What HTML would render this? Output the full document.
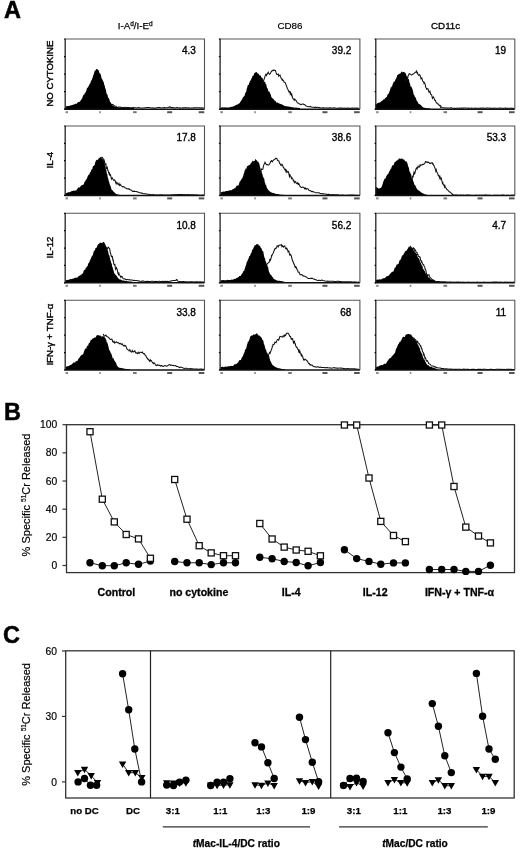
<!DOCTYPE html>
<html><head><meta charset="utf-8"><style>
html,body{margin:0;padding:0;background:#fff;width:520px;height:848px;overflow:hidden}
svg{display:block;filter:blur(0.3px)}
text{font-family:"Liberation Sans",sans-serif;fill:#000}
</style></head><body>
<svg width="520" height="848" viewBox="0 0 520 848">
<text x="3.9" y="17.9" font-size="23.5" font-weight="bold" stroke="#000" stroke-width="0.5">A</text>
<text x="135.2" y="29.2" font-size="9.8" stroke="#000" stroke-width="0.25" text-anchor="middle">I-A<tspan font-size="6.5" dy="-3.5">d</tspan><tspan dy="3.5">/I-E</tspan><tspan font-size="6.5" dy="-3.5">d</tspan></text>
<text x="290" y="29.2" font-size="9.8" stroke="#000" stroke-width="0.2" text-anchor="middle">CD86</text>
<text x="445.6" y="29.2" font-size="9.8" stroke="#000" stroke-width="0.3" text-anchor="middle">CD11c</text>
<text transform="translate(52.5,73.6) rotate(-90)" font-size="9.6" stroke="#000" stroke-width="0.4" text-anchor="middle">NO CYTOKINE</text>
<path d="M65.6,109.2 L65.6,106.4 L66.14,106.17 L66.88,106.26 L67.76,105.88 L68.73,105.89 L69.76,105.69 L70.79,105.28 L71.77,105.29 L72.65,104.83 L73.4,104.82 L74.46,104.25 L75.31,103.79 L76.04,103.67 L76.75,103.8 L77.5,102.72 L78.08,102.11 L78.65,102.09 L79.22,102.3 L79.79,101.55 L80.36,100.54 L80.93,100.75 L81.5,98.65 L81.94,98.97 L82.39,97.63 L82.83,96.29 L83.27,95.17 L83.72,94.59 L84.16,94.91 L84.6,93.38 L85.05,93 L85.5,92.52 L85.87,91.47 L86.25,90.94 L86.63,89.34 L87.01,88.17 L87.4,87.51 L87.78,87.75 L88.16,86.99 L88.53,86.01 L88.9,85.69 L89.25,84.9 L89.6,83.83 L89.97,83.85 L90.33,83.25 L90.67,81.63 L91.02,81.07 L91.35,80.28 L91.68,80.18 L92.01,79.43 L92.34,77.78 L92.67,77.94 L93,75.92 L93.33,75.08 L93.66,74.86 L93.99,73.07 L94.32,72.39 L94.65,70.72 L94.98,70.75 L95.31,70.64 L95.64,69.94 L95.97,70.03 L96.3,68.89 L96.86,69.11 L97.43,69.32 L98,69.81 L98.57,70.32 L99.14,71.89 L99.7,73.45 L99.98,73.35 L100.26,74.05 L100.55,73.59 L100.83,75.06 L101.11,76.12 L101.39,77.78 L101.67,78.7 L101.95,78.53 L102.22,79.07 L102.49,80.31 L102.75,80.03 L103,81.11 L103.29,81.55 L103.58,82.07 L103.85,82.61 L104.12,84.69 L104.39,84.84 L104.65,85.53 L104.91,86.55 L105.17,88.42 L105.43,88.16 L105.7,89.18 L105.97,90.3 L106.24,91.96 L106.51,93.08 L106.78,94.15 L107.05,93.94 L107.32,94.51 L107.59,95.09 L107.86,96.81 L108.13,98.19 L108.4,97.61 L108.73,97.89 L109.04,98.58 L109.36,99.37 L109.67,100.61 L109.99,101.74 L110.33,102.19 L110.7,102.44 L111.1,103.32 L111.68,104.11 L112.29,104.89 L112.93,105.75 L113.61,106.12 L114.34,106.34 L115.1,106.63 L115.83,106.91 L116.5,106.83 L117.21,107.2 L118.05,107.37 L119.12,107.52 L120.5,107.62 L121.15,107.51 L121.89,107.48 L122.72,107.38 L123.62,107.52 L124.57,107.42 L125.56,107.39 L126.57,107.43 L127.59,107.45 L128.59,107.53 L129.57,107.49 L130.51,107.47 L131.38,107.51 L132.19,107.53 L132.9,107.62 L133.51,107.58 L134,107.8 L134,109.2Z" fill="#000"/>
<path d="M112,104.66 L112.46,104.44 L113.07,104.8 L113.85,105.41 L114.82,105.99 L116,106.26 L116.57,106.86 L117.12,107.3 L117.66,107.21 L118.23,107.22 L118.85,107.03 L119.55,106.98 L120.34,107.13 L121.26,107.19 L122.32,107.54 L123.56,107.4 L125,107.3 L125.57,107.68 L126.18,107.68 L126.83,107.51 L127.52,107.61 L128.23,107.43 L128.98,107.58 L129.76,107.86 L130.56,107.95 L131.39,107.93 L132.23,107.73 L133.1,107.68 L133.97,107.57 L134.86,107.78 L135.76,107.79 L136.67,107.9 L137.58,107.77 L138.49,107.65 L139.41,107.85 L140.31,108.03 L141.22,108.06 L142.11,108.05 L142.99,108.06 L143.86,108.03 L144.72,107.8 L145.55,107.81 L146.36,107.74 L147.15,107.57 L147.91,107.49 L148.64,107.55 L149.34,107.57 L150,107.77 L151.1,107.98 L152.16,107.86 L153.19,108.01 L154.2,108.11 L155.17,108.14 L156.11,107.9 L157.02,107.71 L157.9,107.61 L158.75,107.54 L159.57,107.51 L160.35,107.66 L161.11,107.86 L161.84,107.92 L162.53,107.78 L163.19,107.78 L163.83,107.84 L164.43,107.53 L165,107.63 L166.41,107.73 L167.41,107.65 L168.12,107.52 L168.7,107.24 L169.28,106.88 L170,107.12 L170.56,107 L170.78,107.32 L171,107.65 L171.56,107.58 L172.78,107.61 L175,107.91 L175.5,107.92 L176.06,107.68 L176.67,107.55 L177.33,107.5 L178.03,107.81 L178.78,107.92 L179.57,107.7 L180.39,107.88 L181.24,108.04 L182.12,107.99 L183.03,107.84 L183.96,107.85 L184.91,107.68 L185.88,107.56 L186.85,107.89 L187.83,107.93 L188.82,107.9 L189.81,108.05 L190.8,107.92 L191.78,108.04 L192.76,108.08 L193.72,107.86 L194.67,107.76 L195.59,107.73 L196.5,107.7 L197.38,107.82 L198.23,107.75 L199.04,107.79 L199.83,107.69 L200.57,107.95 L201.27,107.86 L201.92,107.86 L202.52,107.91 L203.07,108.06 L203.57,107.95 L204,108.09" fill="none" stroke="#111" stroke-width="1.05"/>
<path d="M65.2,39 H204.5 V109.2" fill="none" stroke="#555" stroke-width="1.1"/>
<path d="M65.2,39 V109.2" fill="none" stroke="#222" stroke-width="1.3"/>
<path d="M64.6,109.2 H204.5" fill="none" stroke="#111" stroke-width="1.5"/>
<path d="M65.4,39 h-1.4" stroke="#000" stroke-width="1.2"/>
<path d="M65.4,56.55 h-1.4" stroke="#000" stroke-width="1.2"/>
<path d="M65.4,74.1 h-1.4" stroke="#000" stroke-width="1.2"/>
<path d="M65.4,91.65 h-1.4" stroke="#000" stroke-width="1.2"/>
<path d="M65.4,109.2 h-1.4" stroke="#000" stroke-width="1.2"/>
<rect x="65.5" y="111.2" width="2.5" height="2" fill="#888"/>
<rect x="99.23" y="111.2" width="1.6" height="2" fill="#888"/>
<rect x="133.05" y="111.2" width="3.6" height="2" fill="#777"/>
<rect x="167.18" y="111.2" width="5" height="2" fill="#555"/>
<rect x="198.7" y="111.2" width="5.6" height="2" fill="#555"/>
<text x="195.9" y="54.2" font-size="10" stroke="#000" stroke-width="0.35" text-anchor="end">4.3</text>
<path d="M220.6,109.2 L220.6,107.5 L221.09,107.5 L221.72,107.51 L222.45,107.36 L223.28,107.44 L224.17,107.4 L225.12,107.32 L226.09,107.54 L227.08,107.41 L228.05,107.41 L228.99,107.44 L229.88,107.31 L230.7,107.05 L231.54,106.87 L232.37,106.67 L233.19,106.57 L234,105.96 L234.8,105.77 L235.58,105.25 L236.34,104.77 L237.08,104.72 L237.81,104.17 L238.52,103.64 L239.2,103.28 L239.69,103.13 L240.17,102.1 L240.63,101.52 L241.09,100.7 L241.54,99.95 L241.98,99.56 L242.41,98.5 L242.83,97.75 L243.24,96.87 L243.64,96.96 L244.03,96.14 L244.41,95.7 L244.78,95.23 L245.15,93.28 L245.5,92.55 L245.86,92.55 L246.2,91.96 L246.52,89.86 L246.82,88.4 L247.11,87.92 L247.39,86.55 L247.66,85.82 L247.93,84.73 L248.2,85 L248.48,84.99 L248.77,84.85 L249.06,82.93 L249.37,82.74 L249.7,82.19 L250.1,80.39 L250.52,80.5 L250.95,80.26 L251.39,78.18 L251.83,78.16 L252.28,76.62 L252.74,75.64 L253.19,75.81 L253.65,75.29 L254.1,73.45 L254.55,72.92 L255,72.74 L255.67,72.29 L256.35,72 L257.04,72.4 L257.72,73.78 L258.39,73.45 L259.05,74.73 L259.69,75.49 L260.3,75.29 L260.88,76.06 L261.43,77.31 L261.95,78 L262.46,77.77 L262.97,79.84 L263.47,80.87 L263.98,82.18 L264.5,81.59 L264.83,81.78 L265.16,81.78 L265.49,83.63 L265.82,83.93 L266.15,84.2 L266.48,85.32 L266.82,87.27 L267.15,88.46 L267.48,88.33 L267.81,88.43 L268.14,90.38 L268.47,91 L268.8,91.89 L269.21,91.61 L269.61,91.81 L270,93.55 L270.39,94.28 L270.77,94.3 L271.17,96.39 L271.59,97.17 L272.03,98.23 L272.5,97.64 L273,99.2 L273.54,98.72 L274.09,100.29 L274.67,100.6 L275.26,100.84 L275.88,101.56 L276.52,102.69 L277.18,102.58 L277.87,102.59 L278.57,103.29 L279.3,103.52 L279.98,103.68 L280.66,103.97 L281.36,104.19 L282.07,104.57 L282.81,104.98 L283.56,105.31 L284.34,105.89 L285.16,105.98 L286,106.25 L286.88,106.3 L287.8,106.52 L288.53,106.51 L289.34,106.69 L290.2,106.74 L291.11,107.11 L292.04,107.27 L293,107.27 L293.96,107.41 L294.9,107.67 L295.82,107.58 L296.7,107.78 L297.52,107.8 L298.28,107.85 L298.96,107.99 L299.53,107.97 L300,108.01 L300,109.2Z" fill="#000"/>
<path d="M261.5,84.56 L261.76,85.23 L262.1,83.2 L262.51,83.18 L262.97,82.31 L263.46,81.2 L263.98,79.52 L264.5,78.15 L264.97,76.34 L265.46,75.33 L265.98,74.33 L266.51,75.52 L267.06,74.37 L267.63,73.25 L268.21,72.2 L268.8,73.73 L269.5,74.3 L270.25,73.73 L271.01,72.06 L271.79,70.93 L272.55,70.4 L273.3,70.6 L274,69.85 L274.76,70.49 L275.46,70.49 L276.14,72.88 L276.83,74.49 L277.54,74.46 L278.3,74.06 L278.71,76.1 L279.13,75.48 L279.55,75.67 L279.99,75.08 L280.44,76.31 L280.89,77.6 L281.34,78.73 L281.8,78.79 L282.25,80.11 L282.71,79.64 L283.16,80.53 L283.6,80.78 L284.08,82.2 L284.56,82.17 L285.05,82.42 L285.53,83.71 L286.01,84.47 L286.49,86.23 L286.97,87.26 L287.45,88.78 L287.94,89.6 L288.42,90.54 L288.9,91.86 L289.33,91.38 L289.75,91.31 L290.15,93.63 L290.55,92.66 L290.95,94.27 L291.36,95.21 L291.77,94.25 L292.2,96.51 L292.66,98.15 L293.14,98.51 L293.65,99.33 L294.2,100.26 L294.78,99 L295.4,99.79 L296.03,100.41 L296.69,101.8 L297.37,102.62 L298.07,103.28 L298.79,103.31 L299.52,104.11 L300.27,104.31 L301.04,104.6 L301.81,104.21 L302.6,103.94 L303.33,104.11 L304.07,104.62 L304.81,104.71 L305.56,105.66 L306.33,105.94 L307.1,106.22 L307.9,106.43 L308.72,106.65 L309.56,106.67 L310.42,106.39 L311.32,106.89 L312.24,107.16 L313.2,107.2 L313.89,107.26 L314.57,107.4 L315.24,107.17 L315.9,107.46 L316.56,107.38 L317.22,107.28 L317.9,107.35 L318.6,107.63 L319.32,107.55 L320.08,107.77 L320.87,108 L321.71,107.92 L322.6,107.85 L323.54,107.87 L324.55,107.98 L325.62,108.07 L326.77,108.08 L328,108.11 L328.62,107.92 L329.29,107.85 L329.99,107.87 L330.73,108.05 L331.51,107.99 L332.31,108.06 L333.15,107.91 L334.01,107.86 L334.89,107.91 L335.79,108.07 L336.71,108.16 L337.65,108.2 L338.6,108.1 L339.56,108.12 L340.53,108.12 L341.5,108.13 L342.48,108.02 L343.45,108.21 L344.43,108.09 L345.39,108.28 L346.35,108.36 L347.3,108.11 L348.24,108.13 L349.16,108.25 L350.07,108.36 L350.95,108.25 L351.81,108.14 L352.64,108.07 L353.45,108.26 L354.22,108.14 L354.97,108.19 L355.67,108.08 L356.34,108.14 L356.96,108.3 L357.54,108.14 L358.08,108.26 L358.57,108.23 L359,108.33" fill="none" stroke="#111" stroke-width="1.05"/>
<path d="M220.1,39 H359.9 V109.2" fill="none" stroke="#555" stroke-width="1.1"/>
<path d="M220.1,39 V109.2" fill="none" stroke="#222" stroke-width="1.3"/>
<path d="M219.5,109.2 H359.9" fill="none" stroke="#111" stroke-width="1.5"/>
<path d="M220.3,39 h-1.4" stroke="#000" stroke-width="1.2"/>
<path d="M220.3,56.55 h-1.4" stroke="#000" stroke-width="1.2"/>
<path d="M220.3,74.1 h-1.4" stroke="#000" stroke-width="1.2"/>
<path d="M220.3,91.65 h-1.4" stroke="#000" stroke-width="1.2"/>
<path d="M220.3,109.2 h-1.4" stroke="#000" stroke-width="1.2"/>
<rect x="220.4" y="111.2" width="2.5" height="2" fill="#888"/>
<rect x="254.25" y="111.2" width="1.6" height="2" fill="#888"/>
<rect x="288.2" y="111.2" width="3.6" height="2" fill="#777"/>
<rect x="322.45" y="111.2" width="5" height="2" fill="#555"/>
<rect x="354.1" y="111.2" width="5.6" height="2" fill="#555"/>
<text x="351.3" y="54.2" font-size="10" stroke="#000" stroke-width="0.35" text-anchor="end">39.2</text>
<path d="M375.6,109.2 L375.6,104.21 L375.57,103.97 L376.2,104.33 L376.7,104 L377.34,103.23 L378.09,102.69 L378.91,102.82 L379.78,102.61 L380.65,102 L381.5,101.07 L381.99,100.77 L382.5,100.29 L383.03,100.68 L383.56,99.05 L384.1,99.35 L384.65,99.36 L385.2,97.58 L385.74,97.95 L386.27,97.35 L386.8,97.06 L387.31,95.31 L387.8,94.23 L388.21,93.44 L388.62,93.88 L389.02,92.9 L389.42,91.56 L389.81,90.63 L390.2,89.45 L390.58,88 L390.96,86.98 L391.33,87.54 L391.7,86.32 L392.06,86.64 L392.41,85.05 L392.76,83.94 L393.1,83.54 L393.52,82.19 L393.92,81.44 L394.3,81.81 L394.66,81.43 L395.02,80.7 L395.38,79.58 L395.74,79.23 L396.1,78.76 L396.48,77.43 L396.88,76.82 L397.3,74.93 L398.01,74.84 L398.77,73.94 L399.55,73.84 L400.35,73.4 L401.13,72.34 L401.89,71.3 L402.6,72.56 L403.38,71.74 L404.12,72.26 L404.83,72.59 L405.51,73.07 L406.17,74.65 L406.8,76.43 L407.13,76 L407.44,76.94 L407.74,77.08 L408.04,78.07 L408.32,78.65 L408.6,78.91 L408.88,79.46 L409.15,80.25 L409.43,82.45 L409.71,83.13 L410,83.3 L410.29,85.13 L410.57,86.6 L410.85,86.62 L411.12,86.39 L411.4,86.76 L411.68,87.12 L411.96,88.2 L412.26,88.62 L412.56,89.53 L412.87,90.42 L413.2,91.91 L413.51,93.65 L413.82,94.66 L414.13,94.91 L414.44,95.47 L414.77,96.4 L415.1,96.99 L415.44,97.62 L415.8,97.78 L416.17,98.7 L416.56,100.76 L416.97,100.7 L417.4,101.59 L417.95,102.61 L418.54,103.73 L419.16,103.88 L419.81,104.34 L420.47,104.87 L421.15,105.52 L421.83,106.12 L422.5,106.88 L423.16,107.36 L423.8,107.74 L424.75,107.87 L425.77,108 L426.8,108.22 L427.79,108.34 L428.69,108.3 L429.44,108.3 L430,108.22 L430,109.2Z" fill="#000"/>
<path d="M405,79.67 L405.37,80.62 L405.89,80.33 L406.51,79.81 L407.19,79.48 L407.9,76.81 L408.52,74.86 L409.2,73.74 L409.91,74 L410.64,74.37 L411.38,75.12 L412.1,74.68 L412.96,73.98 L413.82,73.77 L414.68,72.64 L415.54,72.41 L416.4,71.03 L416.93,72.81 L417.46,72.36 L417.98,74.55 L418.51,75.22 L419.03,74.94 L419.55,74.69 L420.08,75.36 L420.6,77.24 L421.02,78.63 L421.44,77.93 L421.86,77.84 L422.28,79.55 L422.69,80.98 L423.11,81.5 L423.53,81.65 L423.95,83.24 L424.38,82.62 L424.8,83.52 L425.27,84.83 L425.73,87.32 L426.19,87.95 L426.65,89.31 L427.12,89.1 L427.6,88.63 L428.08,88.79 L428.58,91.4 L429.1,92.36 L429.5,91.89 L429.9,91.15 L430.31,92.57 L430.72,94.18 L431.14,94.6 L431.57,94.69 L432,96.34 L432.44,98.3 L432.89,97.54 L433.35,96.92 L433.82,97.84 L434.3,98.86 L434.84,100.44 L435.39,100.34 L435.96,102.03 L436.54,103.01 L437.13,103.33 L437.73,103.28 L438.33,104.73 L438.93,104.75 L439.53,105.63 L440.12,105.61 L440.7,105.8 L441.08,106.62 L440.86,106.82 L440.4,107.43 L440.06,107.54 L440.2,107.51 L441.16,107.58 L443.31,107.76 L447,108 L447.46,108.17 L447.94,107.98 L448.44,107.98 L448.98,107.92 L449.54,108.16 L450.12,108 L450.72,107.89 L451.35,107.85 L452,107.94 L452.67,108.16 L453.36,108.26 L454.07,108.27 L454.81,108.36 L455.56,108.39 L456.32,108.22 L457.11,108.09 L457.91,108.26 L458.73,108.29 L459.56,108.09 L460.41,108.18 L461.27,108.14 L462.14,108.13 L463.03,108.11 L463.93,108.05 L464.84,107.97 L465.76,108.02 L466.69,108.07 L467.63,108.27 L468.58,108.13 L469.54,108.31 L470.5,108.17 L471.47,108.15 L472.45,108.28 L473.43,108.34 L474.42,108.26 L475.41,108.1 L476.4,108.15 L477.4,108.15 L478.4,108.31 L479.39,108.17 L480.39,108.15 L481.39,108.31 L482.39,108.12 L483.39,108.14 L484.38,108.27 L485.38,108.33 L486.37,108.13 L487.35,108.04 L488.33,107.99 L489.3,108.23 L490.27,108.15 L491.23,108.26 L492.19,108.35 L493.13,108.23 L494.07,108.15 L495,108.32 L495.92,108.3 L496.82,108.18 L497.72,108.26 L498.6,108.18 L499.47,108.12 L500.33,108.01 L501.17,108.18 L502,108.32 L502.81,108.3 L503.6,108.38 L504.38,108.15 L505.14,108.09 L505.89,108.14 L506.61,108.3 L507.31,108.39 L508,108.26 L508.66,108.15 L509.3,108.15 L509.92,108.17 L510.52,108.31 L511.09,108.16 L511.64,108.27 L512.17,108.3 L512.66,108.35 L513.14,108.36 L513.58,108.31 L514,108.2" fill="none" stroke="#111" stroke-width="1.05"/>
<path d="M375.8,39 H514.8 V109.2" fill="none" stroke="#555" stroke-width="1.1"/>
<path d="M375.8,39 V109.2" fill="none" stroke="#222" stroke-width="1.3"/>
<path d="M375.2,109.2 H514.8" fill="none" stroke="#111" stroke-width="1.5"/>
<path d="M376,39 h-1.4" stroke="#000" stroke-width="1.2"/>
<path d="M376,56.55 h-1.4" stroke="#000" stroke-width="1.2"/>
<path d="M376,74.1 h-1.4" stroke="#000" stroke-width="1.2"/>
<path d="M376,91.65 h-1.4" stroke="#000" stroke-width="1.2"/>
<path d="M376,109.2 h-1.4" stroke="#000" stroke-width="1.2"/>
<rect x="376.1" y="111.2" width="2.5" height="2" fill="#888"/>
<rect x="409.75" y="111.2" width="1.6" height="2" fill="#888"/>
<rect x="443.5" y="111.2" width="3.6" height="2" fill="#777"/>
<rect x="477.55" y="111.2" width="5" height="2" fill="#555"/>
<rect x="509" y="111.2" width="5.6" height="2" fill="#555"/>
<text x="506.2" y="54.2" font-size="10" stroke="#000" stroke-width="0.35" text-anchor="end">19</text>
<text transform="translate(52.5,160.2) rotate(-90)" font-size="9.6" stroke="#000" stroke-width="0.4" text-anchor="middle">IL-4</text>
<path d="M65.6,195.4 L65.6,193.17 L66.1,193.01 L66.76,193.04 L67.53,192.58 L68.4,192.29 L69.33,192.34 L70.3,191.89 L71.28,191.37 L72.24,190.88 L73.16,190.87 L74,190.47 L74.72,190.74 L75.44,190.62 L76.14,190.52 L76.85,189.41 L77.54,188.38 L78.23,187.62 L78.9,187.55 L79.57,187.58 L80.22,186.9 L80.87,185.86 L81.5,185.34 L82.03,185.24 L82.54,184.99 L83.05,184.69 L83.56,184.41 L84.05,183.56 L84.54,181.7 L85.02,181.85 L85.49,180.47 L85.96,179.96 L86.42,178.96 L86.87,178.82 L87.31,177.3 L87.75,176.28 L88.18,175.4 L88.59,174.38 L88.99,174.94 L89.38,174.21 L89.76,172.94 L90.14,172.04 L90.51,172.38 L90.88,171.19 L91.25,169.65 L91.62,169.65 L91.99,168.98 L92.37,168.96 L92.75,166.83 L93.21,166.04 L93.68,165.91 L94.16,165.48 L94.64,165 L95.12,162.63 L95.6,161.57 L96.06,160.35 L96.51,159.56 L96.95,160.44 L97.36,159.85 L97.75,160.04 L98.69,158.18 L99.5,158.05 L100.25,157.2 L101,156.68 L101.45,157.7 L101.89,158.86 L102.33,158.15 L102.76,159.21 L103.19,160.28 L103.6,160.54 L104,161.52 L104.23,161.7 L104.45,162.31 L104.66,163.12 L104.87,164.65 L105.08,165.96 L105.28,166.17 L105.48,166.34 L105.69,167.52 L105.89,169.26 L106.09,169.58 L106.29,170.43 L106.5,171.05 L106.7,172.95 L106.9,173.83 L107.1,173.73 L107.29,174.18 L107.48,175.42 L107.67,176.77 L107.87,178.05 L108.07,178 L108.29,178.54 L108.51,180.27 L108.75,180.96 L109,181.44 L109.29,182.2 L109.59,184.31 L109.9,184.52 L110.22,185.57 L110.55,186.13 L110.89,186.94 L111.24,188.41 L111.6,189.63 L111.98,189.75 L112.36,189.97 L112.75,190.87 L113.38,191.41 L114.02,191.88 L114.69,192.87 L115.38,193.33 L116.12,193.88 L116.91,194.18 L117.75,194.59 L118.5,194.76 L119.35,194.84 L120.27,194.89 L121.22,195.05 L122.15,195.16 L123.04,195.29 L123.83,195.19 L124.5,195.27 L125,195.28 L125,195.4Z" fill="#000"/>
<path d="M101.5,158.01 L101.92,157.3 L102.52,157.65 L103.23,159.05 L104,161.76 L104.29,160.65 L104.59,161.6 L104.9,163.4 L105.22,165.2 L105.55,164.23 L105.89,163.97 L106.24,166.74 L106.6,168.67 L106.98,168.6 L107.36,167.72 L107.75,170.32 L108.09,170.32 L108.44,172.27 L108.79,172.81 L109.16,174.12 L109.53,173.2 L109.9,175.03 L110.29,174.67 L110.68,175.44 L111.08,177.53 L111.49,178.88 L111.9,177.96 L112.32,177.91 L112.75,178.71 L113.31,179.86 L113.86,180.3 L114.41,179.98 L114.98,180.41 L115.56,182.26 L116.17,183.91 L116.81,182.36 L117.49,183.37 L118.22,184.69 L119,183.45 L119.65,185.38 L120.33,184.38 L121.05,185.53 L121.8,186.15 L122.57,186.87 L123.36,186.6 L124.17,186.96 L124.98,187.72 L125.8,187.94 L126.62,188.72 L127.42,188.85 L128.22,189.07 L129,188.6 L129.76,189.56 L130.51,189.97 L131.26,189.93 L131.99,190.82 L132.73,191.39 L133.47,191.37 L134.22,191.16 L134.97,191.51 L135.74,191.42 L136.52,191.53 L137.32,191.98 L138.15,192.02 L139,192.44 L139.75,192.76 L140.5,192.67 L141.26,193.11 L142.02,193.05 L142.8,193.47 L143.58,193.76 L144.38,193.81 L145.19,193.68 L146.02,193.88 L146.87,193.97 L147.74,194.28 L148.64,194.19 L149.56,194.42 L150.52,194.61 L151.5,194.66 L152.23,194.73 L152.99,194.6 L153.78,194.79 L154.59,194.76 L155.43,194.9 L156.28,194.97 L157.15,194.8 L158.03,194.92 L158.91,195.03 L159.8,194.84 L160.7,194.83 L161.59,194.96 L162.47,194.86 L163.35,195.03 L164.22,194.94 L165.07,195.06 L165.91,194.92 L166.72,194.96 L167.51,195.11 L168.27,194.97 L169,194.91 L169.96,194.95 L170.84,194.9 L171.66,194.77 L172.43,194.72 L173.17,194.67 L173.88,194.85 L174.58,194.83 L175.29,194.87 L176.02,194.64 L176.78,194.69 L177.58,194.5 L178.44,194.51 L179.37,194.54 L180.39,194.47 L181.5,194.6 L182.15,194.57 L182.85,194.57 L183.6,194.67 L184.39,194.5 L185.21,194.69 L186.07,194.68 L186.95,194.63 L187.86,194.73 L188.78,194.64 L189.72,194.83 L190.67,194.81 L191.62,194.76 L192.58,194.87 L193.53,194.84 L194.48,194.77 L195.41,194.92 L196.32,194.8 L197.21,194.99 L198.08,194.93 L198.92,195.03 L199.72,195.2 L200.49,195.18 L201.21,195.2 L201.88,195.12 L202.5,195 L203.06,194.95 L203.56,194.97 L204,195.13" fill="none" stroke="#111" stroke-width="1.05"/>
<path d="M65.2,126 H204.5 V195.4" fill="none" stroke="#555" stroke-width="1.1"/>
<path d="M65.2,126 V195.4" fill="none" stroke="#222" stroke-width="1.3"/>
<path d="M64.6,195.4 H204.5" fill="none" stroke="#111" stroke-width="1.5"/>
<path d="M65.4,126 h-1.4" stroke="#000" stroke-width="1.2"/>
<path d="M65.4,143.35 h-1.4" stroke="#000" stroke-width="1.2"/>
<path d="M65.4,160.7 h-1.4" stroke="#000" stroke-width="1.2"/>
<path d="M65.4,178.05 h-1.4" stroke="#000" stroke-width="1.2"/>
<path d="M65.4,195.4 h-1.4" stroke="#000" stroke-width="1.2"/>
<rect x="65.5" y="197.4" width="2.5" height="2" fill="#888"/>
<rect x="99.23" y="197.4" width="1.6" height="2" fill="#888"/>
<rect x="133.05" y="197.4" width="3.6" height="2" fill="#777"/>
<rect x="167.18" y="197.4" width="5" height="2" fill="#555"/>
<rect x="198.7" y="197.4" width="5.6" height="2" fill="#555"/>
<text x="195.9" y="141.2" font-size="10" stroke="#000" stroke-width="0.35" text-anchor="end">17.8</text>
<path d="M220.6,195.4 L220.6,191.95 L221.11,191.93 L221.76,192.17 L222.54,191.72 L223.41,191.54 L224.34,191.71 L225.33,191.27 L226.33,190.96 L227.32,190.99 L228.28,190.69 L229.18,190.62 L230,190.3 L230.76,190.31 L231.51,190.14 L232.25,189.44 L232.97,189.35 L233.68,188.9 L234.37,187.96 L235.04,188.39 L235.69,187.27 L236.31,186.24 L236.92,185.28 L237.5,185.48 L238.01,185.76 L238.49,185.38 L238.96,184.06 L239.4,182.76 L239.82,181.22 L240.23,181.32 L240.63,180.82 L241.02,179.75 L241.4,179.41 L241.77,178.46 L242.14,178.59 L242.5,177.89 L242.88,176.13 L243.24,176.14 L243.58,173.99 L243.9,173.46 L244.22,172.52 L244.53,171.31 L244.85,169.94 L245.17,170.31 L245.51,168.61 L245.87,168.51 L246.25,168.93 L246.82,167.06 L247.41,165.92 L248.03,165.87 L248.67,165.36 L249.32,165.11 L249.97,165.07 L250.62,163.51 L251.25,162.73 L251.98,161.89 L252.72,160.53 L253.46,161.13 L254.19,160.9 L254.91,160.47 L255.6,158.82 L256.25,159.88 L256.68,160.46 L257.08,160.49 L257.47,161.42 L257.84,161.72 L258.2,161.87 L258.56,162.18 L258.91,163.08 L259.27,163.64 L259.63,165 L260,166.97 L260.27,168.07 L260.54,169.3 L260.8,170.05 L261.07,169.94 L261.34,170.88 L261.61,171.54 L261.88,173 L262.14,173.63 L262.41,173.86 L262.68,175.15 L262.95,176.85 L263.21,176.61 L263.48,178.2 L263.75,177.64 L264.03,178.29 L264.3,178.99 L264.56,180.77 L264.82,182.49 L265.08,183.36 L265.34,183.36 L265.6,184.86 L265.88,184.89 L266.16,185.1 L266.46,186.81 L266.79,187.47 L267.13,188.18 L267.5,188.75 L268,189.83 L268.51,190.02 L269.03,190.77 L269.58,191.22 L270.16,191.78 L270.77,191.93 L271.43,192.39 L272.14,192.69 L272.91,192.88 L273.75,193.12 L274.43,193.47 L275.19,193.55 L276.03,193.95 L276.93,194.02 L277.86,194.11 L278.81,194.25 L279.77,194.55 L280.7,194.64 L281.61,194.69 L282.46,194.74 L283.24,194.81 L283.94,195.01 L284.53,195.13 L285,195.24 L285,195.4Z" fill="#000"/>
<path d="M258,168.71 L258.29,167.76 L258.69,169.56 L259.24,170.12 L260,171.45 L260.38,171.77 L260.81,171.82 L261.28,168.99 L261.78,169.57 L262.31,169.57 L262.86,169.25 L263.41,166.2 L263.95,164.65 L264.49,163.34 L265,162.29 L265.82,163.96 L266.62,164.69 L267.42,164.54 L268.24,165.03 L269.09,164.61 L270,163.16 L270.73,161.64 L271.5,160.57 L272.31,161.69 L273.12,160.31 L273.94,159.72 L274.75,159.58 L275.52,158.24 L276.25,158.37 L276.94,158.72 L277.62,160.48 L278.27,160.66 L278.91,160.98 L279.52,163.45 L280.12,163.68 L280.69,165.17 L281.25,165.51 L281.84,164.28 L282.38,165.14 L282.88,166 L283.37,167.79 L283.87,167.78 L284.41,169.24 L285,169.87 L285.45,169.41 L285.92,171.43 L286.41,170.43 L286.91,172.44 L287.42,171.83 L287.94,171.33 L288.46,172.01 L288.98,174.36 L289.49,176.49 L290,174.95 L290.49,175.95 L290.96,176.78 L291.42,178.43 L291.88,177.75 L292.34,178.66 L292.82,178.98 L293.32,180.91 L293.84,180.46 L294.4,182.57 L295,181.92 L295.58,181.61 L296.18,183.14 L296.8,183.54 L297.44,182.8 L298.1,184.23 L298.78,183.5 L299.48,185.47 L300.21,186.38 L300.95,187.27 L301.71,187.47 L302.5,187.09 L303.18,187.17 L303.88,187.4 L304.59,188.8 L305.31,187.97 L306.05,189.36 L306.8,188.6 L307.57,188.76 L308.36,189.14 L309.16,190.49 L309.97,190.72 L310.8,190.82 L311.64,191.65 L312.5,191.4 L313.26,191.64 L314.04,191.93 L314.84,192.39 L315.65,192.7 L316.48,192.84 L317.32,192.74 L318.17,192.77 L319.02,192.75 L319.88,193.28 L320.74,193.49 L321.6,193.7 L322.46,193.56 L323.31,193.69 L324.16,193.97 L325,194.08 L325.81,194.01 L326.6,194.15 L327.36,194.4 L328.1,194.36 L328.83,194.36 L329.57,194.43 L330.31,194.61 L331.07,194.77 L331.85,194.67 L332.67,194.65 L333.52,194.68 L334.42,194.75 L335.38,194.86 L336.41,194.83 L337.5,194.88 L338.18,194.87 L338.92,195.11 L339.7,195.17 L340.53,195.02 L341.39,195.21 L342.29,195.06 L343.21,195.07 L344.16,195.26 L345.12,195.31 L346.09,195.32 L347.07,195.24 L348.05,195.14 L349.03,195.22 L350,195.11 L350.95,195.09 L351.89,195.13 L352.8,195.05 L353.68,195.13 L354.52,195.28 L355.32,195.34 L356.08,195.31 L356.79,195.33 L357.44,195.3 L358.03,195.19 L358.55,195.28 L359,195.26" fill="none" stroke="#111" stroke-width="1.05"/>
<path d="M220.1,126 H359.9 V195.4" fill="none" stroke="#555" stroke-width="1.1"/>
<path d="M220.1,126 V195.4" fill="none" stroke="#222" stroke-width="1.3"/>
<path d="M219.5,195.4 H359.9" fill="none" stroke="#111" stroke-width="1.5"/>
<path d="M220.3,126 h-1.4" stroke="#000" stroke-width="1.2"/>
<path d="M220.3,143.35 h-1.4" stroke="#000" stroke-width="1.2"/>
<path d="M220.3,160.7 h-1.4" stroke="#000" stroke-width="1.2"/>
<path d="M220.3,178.05 h-1.4" stroke="#000" stroke-width="1.2"/>
<path d="M220.3,195.4 h-1.4" stroke="#000" stroke-width="1.2"/>
<rect x="220.4" y="197.4" width="2.5" height="2" fill="#888"/>
<rect x="254.25" y="197.4" width="1.6" height="2" fill="#888"/>
<rect x="288.2" y="197.4" width="3.6" height="2" fill="#777"/>
<rect x="322.45" y="197.4" width="5" height="2" fill="#555"/>
<rect x="354.1" y="197.4" width="5.6" height="2" fill="#555"/>
<text x="351.3" y="141.2" font-size="10" stroke="#000" stroke-width="0.35" text-anchor="end">38.6</text>
<path d="M375.6,195.4 L375.6,186.22 L376.09,187.13 L376.76,187.14 L377.57,187.77 L378.42,188.58 L379.25,188.53 L380,187.94 L380.4,188.08 L380.79,188.07 L381.17,187.52 L381.55,186.7 L381.92,186.15 L382.28,185.05 L382.65,183.96 L383.01,182.61 L383.38,181.26 L383.75,180.89 L384.16,179.28 L384.56,178.8 L384.95,178.97 L385.35,178.6 L385.75,177.93 L386.16,176.5 L386.58,175.77 L387.03,175.07 L387.5,174.63 L387.87,173.74 L388.26,173.45 L388.66,173.44 L389.07,171.55 L389.49,171.15 L389.92,170.8 L390.35,169.46 L390.79,168.61 L391.22,168.79 L391.65,166.65 L392.08,166.27 L392.5,165.01 L393.01,165.19 L393.52,165.24 L394.04,164.06 L394.56,162.3 L395.08,162.04 L395.59,161.54 L396.09,161.37 L396.58,160.64 L397.05,160.31 L397.5,160.36 L398.5,159.19 L399.38,158.31 L400.25,159.02 L401.25,158.13 L401.91,158.78 L402.62,158.71 L403.37,159.67 L404.13,159.19 L404.88,161.04 L405.59,161.16 L406.25,161.15 L406.58,161.69 L406.9,162.55 L407.2,162.59 L407.5,163.81 L407.78,164.83 L408.06,166.31 L408.34,166.79 L408.61,167.28 L408.89,167.87 L409.16,169.62 L409.44,171.31 L409.71,171.72 L410,171.69 L410.29,173.23 L410.58,173.57 L410.87,173.79 L411.15,174.13 L411.44,176 L411.73,177.4 L412.02,178.14 L412.31,178.57 L412.6,179.35 L412.88,179.44 L413.17,181.31 L413.46,181.38 L413.75,182.31 L414.11,183.66 L414.46,184.74 L414.8,184.98 L415.13,185.14 L415.47,186.09 L415.82,186.19 L416.19,187.75 L416.59,188.12 L417.02,189.29 L417.5,189.43 L418.08,189.98 L418.72,190.45 L419.4,191.12 L420.11,191.55 L420.84,191.92 L421.57,192.73 L422.31,193.12 L423.04,193.49 L423.75,193.86 L424.7,194.29 L425.72,194.59 L426.76,194.85 L427.76,195.03 L428.67,195.11 L429.44,195.29 L430,195.4 L430,195.4Z" fill="#000"/>
<path d="M410,178.67 L410.39,179.91 L410.94,180.42 L411.64,179.77 L412.5,176.69 L412.83,177.3 L413.19,176.65 L413.57,174.08 L413.98,172.38 L414.41,173.93 L414.84,173.4 L415.29,171.5 L415.74,169.69 L416.19,168.53 L416.64,167.87 L417.08,168.85 L417.5,167.78 L418.13,166.15 L418.78,167.23 L419.43,167.12 L420.08,164.9 L420.72,165.69 L421.34,164.99 L421.93,164.94 L422.5,164.38 L423.31,164.38 L424.03,163.89 L424.72,163.68 L425.44,161.61 L426.25,162.1 L427.01,161.91 L427.82,162.53 L428.67,162.07 L429.54,163.4 L430.4,163.39 L431.25,162.95 L431.7,162.76 L432.16,162.69 L432.61,164.05 L433.07,163.78 L433.52,165.24 L433.98,165.39 L434.43,166.89 L434.89,168.05 L435.34,169.15 L435.8,171.05 L436.25,169.79 L436.67,171.98 L437.08,172.31 L437.5,173.13 L437.92,174.21 L438.33,175.65 L438.75,175.34 L439.17,175.69 L439.58,177.87 L440,176.68 L440.42,178.13 L440.83,179.23 L441.25,178.32 L441.66,179.98 L442.07,181.41 L442.47,183.26 L442.87,182.77 L443.27,184.86 L443.67,184.88 L444.08,185.18 L444.49,186.91 L444.91,185.67 L445.34,187.22 L445.79,188.04 L446.25,188.11 L446.83,189.6 L447.44,189.75 L448.07,190.35 L448.72,191.02 L449.38,191.93 L450.03,192.06 L450.68,192.6 L451.31,193.09 L451.92,193.6 L452.5,194.12 L452.81,194.46 L452.35,194.84 L451.86,194.92 L452.06,194.98 L453.7,194.96 L457.5,195.07 L457.96,195.24 L458.44,195.23 L458.96,195.27 L459.51,195.16 L460.08,195.1 L460.69,195.07 L461.32,195.14 L461.98,195.2 L462.66,195.27 L463.36,195.09 L464.09,195.21 L464.84,195.32 L465.62,195.27 L466.41,195.1 L467.22,195.1 L468.05,195.01 L468.9,195.02 L469.76,195.25 L470.64,195.27 L471.54,195.3 L472.44,195.35 L473.37,195.4 L474.3,195.37 L475.24,195.34 L476.19,195.33 L477.16,195.35 L478.13,195.33 L479.1,195.35 L480.09,195.22 L481.08,195.29 L482.07,195.26 L483.06,195.34 L484.06,195.19 L485.06,195.13 L486.06,195.06 L487.06,195.25 L488.06,195.39 L489.06,195.38 L490.05,195.29 L491.04,195.38 L492.02,195.4 L493,195.36 L493.97,195.25 L494.93,195.21 L495.88,195.22 L496.82,195.2 L497.75,195.22 L498.67,195.29 L499.58,195.4 L500.47,195.22 L501.35,195.27 L502.22,195.14 L503.06,195.1 L503.89,195.29 L504.7,195.31 L505.49,195.4 L506.26,195.34 L507.01,195.17 L507.74,195.2 L508.44,195.27 L509.12,195.4 L509.78,195.4 L510.41,195.39 L511.01,195.31 L511.58,195.19 L512.13,195.28 L512.64,195.2 L513.13,195.15 L513.58,195.08 L514,195.04" fill="none" stroke="#111" stroke-width="1.05"/>
<path d="M375.8,126 H514.8 V195.4" fill="none" stroke="#555" stroke-width="1.1"/>
<path d="M375.8,126 V195.4" fill="none" stroke="#222" stroke-width="1.3"/>
<path d="M375.2,195.4 H514.8" fill="none" stroke="#111" stroke-width="1.5"/>
<path d="M376,126 h-1.4" stroke="#000" stroke-width="1.2"/>
<path d="M376,143.35 h-1.4" stroke="#000" stroke-width="1.2"/>
<path d="M376,160.7 h-1.4" stroke="#000" stroke-width="1.2"/>
<path d="M376,178.05 h-1.4" stroke="#000" stroke-width="1.2"/>
<path d="M376,195.4 h-1.4" stroke="#000" stroke-width="1.2"/>
<rect x="376.1" y="197.4" width="2.5" height="2" fill="#888"/>
<rect x="409.75" y="197.4" width="1.6" height="2" fill="#888"/>
<rect x="443.5" y="197.4" width="3.6" height="2" fill="#777"/>
<rect x="477.55" y="197.4" width="5" height="2" fill="#555"/>
<rect x="509" y="197.4" width="5.6" height="2" fill="#555"/>
<text x="506.2" y="141.2" font-size="10" stroke="#000" stroke-width="0.35" text-anchor="end">53.3</text>
<text transform="translate(52.5,247.55) rotate(-90)" font-size="9.6" stroke="#000" stroke-width="0.4" text-anchor="middle">IL-12</text>
<path d="M65.6,282.8 L65.6,280.34 L66.1,280.01 L66.76,280.24 L67.53,279.79 L68.4,279.96 L69.33,279.5 L70.3,279.08 L71.28,279.24 L72.24,278.84 L73.16,278.87 L74,278.27 L74.79,277.65 L75.58,277.85 L76.36,277.72 L77.12,277.62 L77.88,277.23 L78.63,275.96 L79.37,275.79 L80.09,275.56 L80.8,274.74 L81.5,274.81 L82.03,273.42 L82.54,273.81 L83.05,273.2 L83.56,271.17 L84.05,269.82 L84.54,270.07 L85.02,270.18 L85.49,268.39 L85.96,267.59 L86.42,267.65 L86.87,266.17 L87.31,266.43 L87.75,265.43 L88.12,263.78 L88.49,263.19 L88.85,262.92 L89.21,262.12 L89.56,261.79 L89.9,260.16 L90.24,260.25 L90.57,259.02 L90.9,258.58 L91.22,257.94 L91.54,256.82 L91.85,255.83 L92.16,255.8 L92.46,255.77 L92.75,255.13 L93.17,253.78 L93.56,252.15 L93.93,250.47 L94.28,251.08 L94.62,250.48 L94.97,250.09 L95.32,248.57 L95.69,248.04 L96.08,248.21 L96.5,247.71 L97.07,246.54 L97.66,244.97 L98.28,244.07 L98.92,244.21 L99.57,243 L100.22,242.85 L100.87,242.53 L101.5,243 L102.13,243.19 L102.78,242.43 L103.43,241.74 L104.08,242.25 L104.72,243.21 L105.34,244.46 L105.93,246.06 L106.5,247.56 L106.77,246.67 L107.03,248.15 L107.28,249.21 L107.53,250.23 L107.76,250.54 L108,250.51 L108.23,252.07 L108.45,253.19 L108.68,253.94 L108.9,255.21 L109.12,255.14 L109.34,255.02 L109.56,256.31 L109.79,257.86 L110.02,257.85 L110.25,259.32 L110.48,260.81 L110.71,260.58 L110.94,261.62 L111.16,262.7 L111.38,263.23 L111.6,263.4 L111.82,263.99 L112.05,265.69 L112.27,267.03 L112.5,267.42 L112.74,267.26 L112.97,268.99 L113.22,270.14 L113.47,269.98 L113.73,270.92 L114,272.32 L114.4,273.57 L114.8,273.88 L115.21,274.33 L115.62,275.11 L116.05,275.25 L116.49,275.69 L116.95,276.23 L117.42,277.37 L117.92,277.85 L118.45,278.5 L119,278.91 L119.72,279.43 L120.48,279.61 L121.28,279.75 L122.11,280.39 L122.96,280.46 L123.83,280.43 L124.72,280.69 L125.61,280.95 L126.5,280.92 L127.35,281.14 L128.27,281.23 L129.24,281.39 L130.24,281.39 L131.22,281.45 L132.16,281.74 L133.04,281.89 L133.83,281.92 L134.49,281.98 L135,281.97 L135,282.8Z" fill="#000"/>
<path d="M104,244.84 L104.41,244.56 L104.97,246.27 L105.64,246.93 L106.36,247.8 L107.08,249.11 L107.75,248.14 L108.12,247.14 L108.5,247.46 L108.88,247.9 L109.25,248.2 L109.62,248.63 L110,250.77 L110.38,253.2 L110.75,253.62 L111.12,255.76 L111.5,257.19 L111.76,255.61 L112.02,256.81 L112.28,257.21 L112.53,257 L112.79,259.84 L113.04,259.59 L113.3,260.81 L113.56,262.09 L113.82,264.1 L114.09,264.66 L114.36,264.52 L114.65,265 L114.94,264.75 L115.25,267.39 L115.62,269.25 L116,268.28 L116.38,267.65 L116.78,268.38 L117.18,269.41 L117.59,271.95 L118.01,273.58 L118.44,274.54 L118.88,273.05 L119.33,274.64 L119.79,275.48 L120.25,275.98 L120.86,277.3 L121.43,276.4 L122.01,276.42 L122.6,277.65 L123.22,278.7 L123.91,279.01 L124.67,278.87 L125.52,279.29 L126.5,279.81 L127.13,279.47 L127.79,279.58 L128.46,279.66 L129.16,279.65 L129.89,279.99 L130.64,279.98 L131.42,280.07 L132.24,280.1 L133.09,280.51 L133.97,280.32 L134.89,280.7 L135.86,280.6 L136.86,280.5 L137.91,280.99 L139,280.88 L139.66,281.21 L140.36,281.35 L141.09,281.44 L141.85,281.13 L142.64,281.14 L143.45,281 L144.28,281.33 L145.13,281.47 L145.99,281.45 L146.87,281.37 L147.75,281.29 L148.64,281.47 L149.53,281.43 L150.42,281.47 L151.31,281.3 L152.19,281.26 L153.06,281.17 L153.92,281.41 L154.77,281.46 L155.59,281.33 L156.4,281.56 L157.18,281.43 L157.93,281.43 L158.66,281.33 L159.35,281.33 L160,281.55 L161.08,281.46 L162.11,281.34 L163.1,281.4 L164.04,281.35 L164.94,281.55 L165.81,281.31 L166.63,281.54 L167.42,281.24 L168.17,281.44 L168.89,281.41 L169.57,281.16 L170.22,281.13 L170.84,280.99 L171.44,280.87 L172,280.74 L173.4,280.49 L174.39,280.56 L175.13,280.46 L175.78,280.28 L176.5,279.45 L176.94,279.48 L176.99,280.33 L177.17,280.46 L178,281.16 L180,281.43 L180.49,281.69 L181.05,281.47 L181.68,281.67 L182.36,281.62 L183.09,281.54 L183.87,281.47 L184.7,281.72 L185.56,281.76 L186.45,281.68 L187.37,281.73 L188.31,281.91 L189.28,281.79 L190.25,281.85 L191.23,281.75 L192.22,281.73 L193.2,281.89 L194.18,281.96 L195.14,281.85 L196.09,281.76 L197.02,281.72 L197.92,281.87 L198.79,281.91 L199.62,281.86 L200.41,281.83 L201.15,281.93 L201.84,282.02 L202.48,282.09 L203.05,282.07 L203.56,281.94 L204,281.85" fill="none" stroke="#111" stroke-width="1.05"/>
<path d="M65.2,213.3 H204.5 V282.8" fill="none" stroke="#555" stroke-width="1.1"/>
<path d="M65.2,213.3 V282.8" fill="none" stroke="#222" stroke-width="1.3"/>
<path d="M64.6,282.8 H204.5" fill="none" stroke="#111" stroke-width="1.5"/>
<path d="M65.4,213.3 h-1.4" stroke="#000" stroke-width="1.2"/>
<path d="M65.4,230.68 h-1.4" stroke="#000" stroke-width="1.2"/>
<path d="M65.4,248.05 h-1.4" stroke="#000" stroke-width="1.2"/>
<path d="M65.4,265.43 h-1.4" stroke="#000" stroke-width="1.2"/>
<path d="M65.4,282.8 h-1.4" stroke="#000" stroke-width="1.2"/>
<rect x="65.5" y="284.8" width="2.5" height="2" fill="#888"/>
<rect x="99.23" y="284.8" width="1.6" height="2" fill="#888"/>
<rect x="133.05" y="284.8" width="3.6" height="2" fill="#777"/>
<rect x="167.18" y="284.8" width="5" height="2" fill="#555"/>
<rect x="198.7" y="284.8" width="5.6" height="2" fill="#555"/>
<text x="195.9" y="228.5" font-size="10" stroke="#000" stroke-width="0.35" text-anchor="end">10.8</text>
<path d="M220.6,282.8 L220.6,280.37 L221.05,280.23 L221.61,280.31 L222.25,280 L222.96,280.23 L223.75,280.08 L224.59,280.27 L225.47,280.36 L226.39,280.19 L227.33,279.81 L228.28,280.1 L229.24,279.96 L230.18,280.08 L231.1,279.72 L231.99,279.43 L232.83,279.63 L233.62,279.33 L234.35,278.94 L235,278.77 L235.87,278.63 L236.68,277.84 L237.42,277.69 L238.1,277.31 L238.74,276.94 L239.34,275.99 L239.9,276 L240.44,275.88 L240.96,275.61 L241.47,274.24 L241.98,273.91 L242.5,272.74 L242.91,272.64 L243.29,270.87 L243.66,271.25 L244.01,271.23 L244.35,269.92 L244.68,268.91 L245,268.04 L245.31,267.22 L245.62,265.37 L245.93,265.94 L246.23,264.33 L246.54,263.04 L246.85,261.85 L247.17,261.17 L247.5,261.59 L247.83,259.84 L248.17,258.71 L248.5,258.94 L248.83,257.65 L249.17,256.24 L249.5,256.3 L249.83,255.88 L250.17,255.17 L250.5,254.8 L250.83,253.04 L251.17,253.34 L251.5,252.84 L251.83,250.92 L252.17,249.81 L252.5,249.71 L253,249.1 L253.5,247.91 L254,246.57 L254.5,246.08 L255,244.95 L255.5,245 L256,245.34 L256.5,243.94 L257,244.03 L257.5,244.46 L258.01,243.65 L258.52,244.78 L259.04,245.85 L259.56,245.62 L260.08,245.96 L260.59,247.38 L261.09,247.91 L261.58,248.39 L262.05,250.19 L262.5,251.24 L262.77,251.04 L263.03,251.1 L263.28,251.7 L263.53,252.59 L263.76,254.54 L264,255.58 L264.23,256.74 L264.45,257.56 L264.68,258.46 L264.9,257.75 L265.12,258.74 L265.34,260.53 L265.56,261.78 L265.79,261.42 L266.02,261.95 L266.25,262.98 L266.54,263.45 L266.81,264.44 L267.09,264.42 L267.36,265.55 L267.64,266.65 L267.91,266.62 L268.19,267.23 L268.47,269.56 L268.75,270.7 L269.05,271.94 L269.35,272.3 L269.67,273.15 L270,274.05 L270.43,274.94 L270.84,274.27 L271.25,275.32 L271.67,275.66 L272.11,276.71 L272.58,277.08 L273.09,277.85 L273.66,278.82 L274.29,279.28 L275,279.47 L275.69,279.85 L276.49,280.13 L277.38,280.64 L278.33,280.69 L279.32,280.82 L280.31,281.09 L281.29,281.12 L282.22,281.34 L283.09,281.6 L283.85,281.66 L284.5,281.68 L285,281.78 L285,282.8Z" fill="#000"/>
<path d="M266,266.1 L266.47,264.82 L267.14,263.99 L267.93,263.19 L268.75,262.42 L269,262.41 L269.26,261.7 L269.52,260.82 L269.79,259.5 L270.06,259.78 L270.34,260.36 L270.63,259.51 L270.92,258.52 L271.22,257.83 L271.53,255.73 L271.84,255.81 L272.17,254.76 L272.5,254.18 L272.95,253.58 L273.44,252.44 L273.95,251.01 L274.47,249.7 L275,248.64 L275.53,248.64 L276.05,247.95 L276.56,247.94 L277.05,245.97 L277.5,245.81 L278.31,246.71 L279.03,245.12 L279.72,245.2 L280.44,245.09 L281.25,244.57 L281.9,246.59 L282.59,245.76 L283.31,247.07 L284.04,246.21 L284.78,245.88 L285.52,248.53 L286.25,248.97 L286.7,248.2 L287.16,249.08 L287.61,249.99 L288.07,251.66 L288.52,250.95 L288.98,251.31 L289.43,254.06 L289.89,255.16 L290.34,254.36 L290.8,254.92 L291.25,255.69 L291.58,257.27 L291.91,258.25 L292.23,259.82 L292.55,260.92 L292.87,260.96 L293.19,262.05 L293.51,263.02 L293.83,263.96 L294.16,263.98 L294.49,265.31 L294.83,266.13 L295.17,267.53 L295.52,266.22 L295.88,268.12 L296.25,266.77 L296.72,268.83 L297.18,269.67 L297.64,270.18 L298.1,272.15 L298.58,272.29 L299.06,272.2 L299.57,273.55 L300.09,274.73 L300.64,274.8 L301.23,274.49 L301.84,274.77 L302.5,275.15 L303.13,276.1 L303.78,275.85 L304.45,276.1 L305.14,276.68 L305.85,276.82 L306.58,276.93 L307.34,277.85 L308.12,278.5 L308.93,278.42 L309.77,278.42 L310.65,278.2 L311.56,278.36 L312.5,278.39 L313.19,278.93 L313.86,279.28 L314.52,279.02 L315.18,279.77 L315.84,279.64 L316.52,280.11 L317.21,280.38 L317.92,280.65 L318.66,280.23 L319.43,280.25 L320.24,280.66 L321.09,280.27 L322,280.16 L322.96,280.5 L323.99,280.66 L325.08,281.04 L326.25,281.17 L327.5,281.15 L328.12,281.38 L328.77,281.25 L329.47,281.21 L330.2,281.29 L330.96,281.2 L331.75,281.16 L332.57,281.27 L333.42,281.23 L334.29,281.49 L335.18,281.51 L336.08,281.47 L337.01,281.29 L337.94,281.33 L338.89,281.38 L339.85,281.48 L340.81,281.55 L341.77,281.71 L342.74,281.83 L343.71,281.73 L344.67,281.68 L345.62,281.72 L346.57,281.88 L347.51,281.76 L348.43,281.77 L349.33,281.87 L350.22,281.73 L351.09,281.72 L351.93,281.92 L352.75,281.99 L353.54,281.94 L354.3,281.8 L355.03,281.97 L355.72,282.01 L356.38,282.07 L356.99,282.16 L357.56,282.18 L358.09,282.06 L358.57,281.93 L359,281.91" fill="none" stroke="#111" stroke-width="1.05"/>
<path d="M220.1,213.3 H359.9 V282.8" fill="none" stroke="#555" stroke-width="1.1"/>
<path d="M220.1,213.3 V282.8" fill="none" stroke="#222" stroke-width="1.3"/>
<path d="M219.5,282.8 H359.9" fill="none" stroke="#111" stroke-width="1.5"/>
<path d="M220.3,213.3 h-1.4" stroke="#000" stroke-width="1.2"/>
<path d="M220.3,230.68 h-1.4" stroke="#000" stroke-width="1.2"/>
<path d="M220.3,248.05 h-1.4" stroke="#000" stroke-width="1.2"/>
<path d="M220.3,265.43 h-1.4" stroke="#000" stroke-width="1.2"/>
<path d="M220.3,282.8 h-1.4" stroke="#000" stroke-width="1.2"/>
<rect x="220.4" y="284.8" width="2.5" height="2" fill="#888"/>
<rect x="254.25" y="284.8" width="1.6" height="2" fill="#888"/>
<rect x="288.2" y="284.8" width="3.6" height="2" fill="#777"/>
<rect x="322.45" y="284.8" width="5" height="2" fill="#555"/>
<rect x="354.1" y="284.8" width="5.6" height="2" fill="#555"/>
<text x="351.3" y="228.5" font-size="10" stroke="#000" stroke-width="0.35" text-anchor="end">56.2</text>
<path d="M375.6,282.8 L375.6,280.26 L376.06,280.15 L376.64,279.85 L377.33,279.62 L378.11,279.69 L378.95,279.61 L379.83,279.31 L380.74,279.5 L381.66,279.22 L382.56,278.45 L383.43,278.21 L384.25,278.27 L385,277.64 L385.7,277.52 L386.37,276.45 L387.04,276.01 L387.69,276.25 L388.32,275.77 L388.95,275.39 L389.56,274.15 L390.16,273.75 L390.76,273.35 L391.34,272.27 L391.92,272.18 L392.5,271.6 L393.03,271.95 L393.54,270.96 L394.05,269.81 L394.56,268.31 L395.05,267.29 L395.54,267.63 L396.02,266.15 L396.49,265.04 L396.96,264.27 L397.42,264.24 L397.87,264.48 L398.31,263.83 L398.75,263.56 L399.21,261.55 L399.64,260.07 L400.06,260.47 L400.46,259.4 L400.86,259.28 L401.25,258.12 L401.64,256.81 L402.04,255.98 L402.44,254.88 L402.86,255.58 L403.29,254.95 L403.75,253.83 L404.23,253.11 L404.73,252.21 L405.25,250.69 L405.79,251.2 L406.33,250.45 L406.88,250.46 L407.42,249.09 L407.96,248.47 L408.5,247.19 L409.02,245.96 L409.52,247.02 L410,247.38 L410.68,246.56 L411.34,247.59 L411.97,248.29 L412.58,248.04 L413.18,248.98 L413.78,250.66 L414.38,251.07 L415,252.66 L415.38,252.17 L415.77,252.56 L416.15,253.78 L416.54,253.78 L416.92,254.35 L417.31,256.17 L417.69,256.71 L418.08,258.02 L418.46,258 L418.85,258.27 L419.23,259.19 L419.62,259.72 L420,261.97 L420.33,262.04 L420.66,263 L420.98,262.99 L421.3,264.22 L421.62,264.94 L421.94,265.74 L422.26,265.87 L422.58,266.44 L422.91,268.52 L423.24,268.99 L423.58,269.38 L423.92,269.82 L424.27,270.56 L424.63,271.15 L425,271.33 L425.51,273.14 L426.03,273.84 L426.55,274.27 L427.08,275.63 L427.62,275.8 L428.17,276.43 L428.74,277.64 L429.33,277.79 L429.94,278.4 L430.58,279.22 L431.25,279.78 L431.98,279.82 L432.81,280.11 L433.69,280.56 L434.62,280.73 L435.55,281.13 L436.47,281.14 L437.36,281.44 L438.18,281.52 L438.91,281.55 L439.52,281.67 L440,281.71 L440,282.8Z" fill="#000"/>
<path d="M410,247.62 L410.56,246.58 L411.39,248.06 L412.5,248.51 L412.9,248.12 L413.34,247.82 L413.82,249.04 L414.32,248.78 L414.84,250.97 L415.38,250.17 L415.92,251.32 L416.46,252.37 L416.99,252.48 L417.5,254.46 L417.88,254.53 L418.27,255.75 L418.65,256.46 L419.04,256.44 L419.42,257.06 L419.81,256.87 L420.19,257.45 L420.58,260.18 L420.96,260.36 L421.35,261.88 L421.73,261.39 L422.12,262.89 L422.5,263.42 L422.88,264.49 L423.26,264.82 L423.63,264.71 L424,265.79 L424.37,266.49 L424.74,266.95 L425.11,269.34 L425.49,269.63 L425.87,270.51 L426.26,272.83 L426.66,273.93 L427.07,275.07 L427.5,275.81 L428,274.74 L428.49,274.94 L428.98,274.91 L429.47,276.47 L429.97,277.48 L430.5,277.77 L431.06,278.28 L431.65,279.06 L432.29,279.68 L432.99,279.77 L433.75,280.47 L434.26,280.52 L434.59,280.83 L434.79,280.82 L434.92,280.86 L435.03,281.33 L435.19,281.52 L435.45,281.65 L435.88,281.5 L436.52,281.47 L437.43,281.54 L438.68,281.61 L440.32,281.71 L442.41,281.82 L445,281.8 L445.48,281.86 L445.98,281.99 L446.51,281.92 L447.06,282.09 L447.63,282.1 L448.23,282.15 L448.84,282.04 L449.48,282.04 L450.14,282.12 L450.81,282.07 L451.51,281.94 L452.22,282.13 L452.95,282.21 L453.7,282.11 L454.47,281.98 L455.25,282.17 L456.05,282.19 L456.86,282.04 L457.68,282.02 L458.52,281.97 L459.38,282.16 L460.24,282.08 L461.12,282.25 L462,282.29 L462.9,282.11 L463.81,282.21 L464.73,282.16 L465.66,282.25 L466.59,282.32 L467.53,282.19 L468.48,282.07 L469.44,282.27 L470.4,282.21 L471.37,282.34 L472.34,282.33 L473.31,282.34 L474.29,282.37 L475.27,282.33 L476.26,282.25 L477.24,282.1 L478.23,282.21 L479.22,282.19 L480.2,282.2 L481.19,282.34 L482.17,282.16 L483.16,282.26 L484.14,282.1 L485.11,282.22 L486.09,282.3 L487.06,282.19 L488.02,282.21 L488.98,282.35 L489.93,282.32 L490.88,282.28 L491.81,282.17 L492.75,282.05 L493.67,282.09 L494.58,282.12 L495.48,282.07 L496.38,282.08 L497.26,282.03 L498.13,282.18 L498.99,282.24 L499.83,282.14 L500.66,282.09 L501.48,282.15 L502.28,282.16 L503.07,282.31 L503.85,282.21 L504.6,282.14 L505.34,282.28 L506.06,282.13 L506.77,282.18 L507.45,282.14 L508.12,282.26 L508.76,282.24 L509.39,282.3 L509.99,282.15 L510.58,282.22 L511.14,282.24 L511.68,282.21 L512.19,282.28 L512.68,282.34 L513.15,282.15 L513.59,282.11 L514,282.12" fill="none" stroke="#111" stroke-width="1.05"/>
<path d="M375.8,213.3 H514.8 V282.8" fill="none" stroke="#555" stroke-width="1.1"/>
<path d="M375.8,213.3 V282.8" fill="none" stroke="#222" stroke-width="1.3"/>
<path d="M375.2,282.8 H514.8" fill="none" stroke="#111" stroke-width="1.5"/>
<path d="M376,213.3 h-1.4" stroke="#000" stroke-width="1.2"/>
<path d="M376,230.68 h-1.4" stroke="#000" stroke-width="1.2"/>
<path d="M376,248.05 h-1.4" stroke="#000" stroke-width="1.2"/>
<path d="M376,265.43 h-1.4" stroke="#000" stroke-width="1.2"/>
<path d="M376,282.8 h-1.4" stroke="#000" stroke-width="1.2"/>
<rect x="376.1" y="284.8" width="2.5" height="2" fill="#888"/>
<rect x="409.75" y="284.8" width="1.6" height="2" fill="#888"/>
<rect x="443.5" y="284.8" width="3.6" height="2" fill="#777"/>
<rect x="477.55" y="284.8" width="5" height="2" fill="#555"/>
<rect x="509" y="284.8" width="5.6" height="2" fill="#555"/>
<text x="506.2" y="228.5" font-size="10" stroke="#000" stroke-width="0.35" text-anchor="end">4.7</text>
<text transform="translate(52.5,334.65) rotate(-90)" font-size="9.6" stroke="#000" stroke-width="0.4" text-anchor="middle">IFN-γ + TNF-α</text>
<path d="M65.6,370 L65.6,367.09 L66.04,366.75 L66.62,366.58 L67.31,366.31 L68.08,366.36 L68.91,366.02 L69.77,365.34 L70.65,364.91 L71.5,364.54 L72.07,364.11 L72.67,363.42 L73.29,362.69 L73.93,361.95 L74.57,362.73 L75.23,362.51 L75.88,361.01 L76.53,361.07 L77.18,361.34 L77.8,360.36 L78.41,358.65 L79,358.24 L79.53,357.65 L80.04,356.54 L80.55,356.36 L81.06,354.86 L81.55,355.59 L82.04,355.06 L82.52,354.4 L82.99,354.33 L83.46,353.38 L83.92,351.75 L84.37,350.58 L84.81,349.44 L85.25,348.31 L85.71,348.83 L86.16,348.83 L86.59,347.33 L87.01,345.96 L87.42,345.79 L87.83,345.72 L88.23,345.47 L88.63,343.47 L89.03,343.37 L89.43,343.1 L89.84,342.5 L90.25,341.13 L90.96,339.62 L91.68,339.89 L92.39,338.8 L93.11,338.16 L93.82,338.01 L94.54,337.38 L95.25,337.76 L96.08,336.42 L96.92,335.04 L97.75,335.14 L98.58,335.13 L99.42,335.46 L100.25,335.5 L100.98,336.09 L101.72,336.67 L102.46,336.32 L103.19,336.49 L103.91,336.29 L104.6,336.93 L105.25,338.34 L105.58,338.15 L105.9,339.62 L106.2,339.69 L106.5,340.69 L106.78,342.65 L107.06,342.3 L107.34,342.46 L107.61,343.76 L107.89,344.34 L108.16,346.11 L108.44,345.95 L108.71,347.93 L109,349.3 L109.34,350.32 L109.66,350.5 L109.99,350.71 L110.31,351.96 L110.63,352.69 L110.96,353.25 L111.29,353.75 L111.64,354.59 L111.99,355.85 L112.36,357.2 L112.75,358.43 L113.12,357.92 L113.5,358.33 L113.88,359.25 L114.28,360.35 L114.68,360.92 L115.09,361.38 L115.51,361.88 L115.94,362.86 L116.38,363.86 L116.83,365.19 L117.29,366 L117.75,366.55 L118.47,367.22 L119.23,367.67 L120.01,367.81 L120.81,368.06 L121.62,367.94 L122.43,368.19 L123.22,368.38 L124,368.47 L124.92,368.71 L125.91,368.98 L126.9,369.05 L127.86,369.16 L128.73,369.17 L129.46,369.2 L130,369.36 L130,370Z" fill="#000"/>
<path d="M103,334.58 L103.5,334.45 L104.18,335.9 L104.98,336.01 L105.88,335.11 L106.82,336.59 L107.75,336.76 L108.31,337.61 L108.88,337.8 L109.48,338.52 L110.08,339.28 L110.7,339.45 L111.34,338.98 L111.99,339.22 L112.65,341.72 L113.32,342.17 L114,341.25 L114.78,343.21 L115.58,342.48 L116.41,341.74 L117.25,342.77 L118.1,342.55 L118.95,343.26 L119.81,343.96 L120.66,343.5 L121.5,344.53 L122.18,343.85 L122.86,344.94 L123.55,345.97 L124.23,345.21 L124.91,346.08 L125.59,345.77 L126.27,346.96 L126.95,349.06 L127.64,349.39 L128.32,350.24 L129,350.95 L129.83,349.58 L130.67,351.67 L131.5,352.03 L132.33,350.47 L133.17,351.99 L134,351.54 L134.83,350.77 L135.67,352.88 L136.5,352.89 L137.34,353.66 L138.19,352.24 L139.05,353.56 L139.9,352.18 L140.75,352.16 L141.59,352.69 L142.42,352.05 L143.22,353.66 L144,353.54 L144.68,353.94 L145.33,355.61 L145.97,355.85 L146.59,357.63 L147.2,357.99 L147.81,359.19 L148.41,359.14 L149.02,360.45 L149.63,361.22 L150.25,359.74 L150.87,360.98 L151.48,360.73 L152.09,362.01 L152.69,362.69 L153.3,363.6 L153.91,362.79 L154.53,363.16 L155.17,364.24 L155.82,365.28 L156.5,365.54 L157.28,364.78 L158.08,365.32 L158.91,364.97 L159.75,365.45 L160.6,366.05 L161.45,365.51 L162.31,366.26 L163.16,366.35 L164,365.9 L164.83,365.59 L165.67,365.7 L166.5,366.18 L167.33,366.04 L168.17,365.32 L169,364.78 L169.83,364.59 L170.67,365.43 L171.5,365.05 L172.33,365.4 L173.17,365.3 L174,365.83 L174.83,365.79 L175.67,365.59 L176.5,366.42 L177.33,366.54 L178.17,366.84 L179,367.18 L179.78,367.56 L180.47,367.02 L181.13,367.15 L181.78,367.2 L182.48,367.59 L183.26,368.11 L184.16,368.4 L185.23,368.23 L186.5,368.3 L187.14,368.6 L187.85,368.71 L188.63,368.68 L189.47,368.72 L190.35,368.64 L191.28,368.88 L192.24,368.86 L193.22,369.03 L194.22,369.05 L195.22,368.91 L196.22,368.94 L197.2,368.93 L198.16,369.15 L199.09,369.18 L199.98,369.05 L200.83,369.03 L201.61,369.09 L202.33,369.17 L202.97,369.25 L203.53,369.24 L204,369.24" fill="none" stroke="#111" stroke-width="1.05"/>
<path d="M65.2,300.3 H204.5 V370" fill="none" stroke="#555" stroke-width="1.1"/>
<path d="M65.2,300.3 V370" fill="none" stroke="#222" stroke-width="1.3"/>
<path d="M64.6,370 H204.5" fill="none" stroke="#111" stroke-width="1.5"/>
<path d="M65.4,300.3 h-1.4" stroke="#000" stroke-width="1.2"/>
<path d="M65.4,317.73 h-1.4" stroke="#000" stroke-width="1.2"/>
<path d="M65.4,335.15 h-1.4" stroke="#000" stroke-width="1.2"/>
<path d="M65.4,352.57 h-1.4" stroke="#000" stroke-width="1.2"/>
<path d="M65.4,370 h-1.4" stroke="#000" stroke-width="1.2"/>
<rect x="65.5" y="372" width="2.5" height="2" fill="#888"/>
<rect x="99.23" y="372" width="1.6" height="2" fill="#888"/>
<rect x="133.05" y="372" width="3.6" height="2" fill="#777"/>
<rect x="167.18" y="372" width="5" height="2" fill="#555"/>
<rect x="198.7" y="372" width="5.6" height="2" fill="#555"/>
<text x="195.9" y="315.5" font-size="10" stroke="#000" stroke-width="0.35" text-anchor="end">33.8</text>
<path d="M220.6,370 L220.6,366.98 L221.06,367.1 L221.62,366.99 L222.29,366.73 L223.03,366.81 L223.85,367.14 L224.71,366.68 L225.62,366.46 L226.55,366.64 L227.49,366.39 L228.42,366.19 L229.33,366.17 L230.21,365.89 L231.04,365.88 L231.81,365.73 L232.5,365.91 L233.36,365.82 L234.17,364.59 L234.93,364.3 L235.66,364.16 L236.35,363.99 L237.01,363.52 L237.64,362.8 L238.25,362.15 L238.85,361.04 L239.43,359.99 L240,360.13 L240.51,360.07 L240.99,359.83 L241.46,358.84 L241.9,357.23 L242.32,356.97 L242.73,356.41 L243.13,355.29 L243.52,354.59 L243.9,353.28 L244.27,352.64 L244.64,351.63 L245,350.04 L245.33,349.46 L245.65,348.74 L245.95,349.3 L246.25,348.15 L246.53,346.94 L246.81,345.67 L247.09,344.62 L247.36,343.92 L247.64,342.76 L247.91,341.55 L248.19,342.32 L248.46,341.55 L248.75,340.84 L249.17,340.17 L249.58,338.89 L250,337.59 L250.42,336.37 L250.83,335.9 L251.25,335.38 L251.67,335.7 L252.08,335.29 L252.5,335.68 L253.41,334.23 L254.3,334.7 L255.22,334.4 L256.25,333.47 L256.91,333.29 L257.62,334.15 L258.37,335.59 L259.13,335.3 L259.88,336.33 L260.59,336.56 L261.25,338.07 L261.58,337.35 L261.9,338.17 L262.2,339.79 L262.5,339.76 L262.78,340.12 L263.06,340.26 L263.34,341.05 L263.61,342.08 L263.89,343.9 L264.16,344.25 L264.44,345.19 L264.71,345.64 L265,347.03 L265.34,348.71 L265.68,349.52 L266.02,349.42 L266.36,350.84 L266.7,352.4 L267.05,352.84 L267.39,352.4 L267.73,354.03 L268.07,355.37 L268.41,355.36 L268.75,355.35 L269.09,355.87 L269.41,357.26 L269.74,359.09 L270.06,359.97 L270.38,361.39 L270.71,361.18 L271.04,361.71 L271.39,362.99 L271.74,363.8 L272.11,364.21 L272.5,364.96 L273.13,365.48 L273.76,365.77 L274.42,366.39 L275.12,366.64 L275.85,367.25 L276.64,367.55 L277.5,367.93 L278.26,368.24 L279.14,368.37 L280.09,368.58 L281.07,368.64 L282.04,368.94 L282.96,369.06 L283.79,369.25 L284.48,369.19 L285,369.31 L285,370Z" fill="#000"/>
<path d="M268,357.67 L268.24,356.45 L268.57,354.86 L268.98,353.85 L269.46,352.76 L270,353.34 L270.22,351.62 L270.46,352.56 L270.69,351.46 L270.94,350.83 L271.2,350.22 L271.47,349.38 L271.75,348.82 L272.05,347.93 L272.35,346.26 L272.68,346.26 L273.02,344.44 L273.37,344.57 L273.75,344.5 L274.27,344.09 L274.84,342.17 L275.44,342.31 L276.07,342.73 L276.72,341.12 L277.38,339.55 L278.05,339.28 L278.71,340.17 L279.36,337.98 L280,336.3 L280.79,336.51 L281.59,336.87 L282.4,337.13 L283.2,335.8 L284,336.83 L284.78,334.94 L285.53,335.54 L286.25,333.88 L287.03,333.04 L287.77,333.18 L288.48,333.34 L289.17,335.1 L289.86,336.54 L290.55,336.54 L291.25,339.24 L291.7,339 L292.16,338.55 L292.61,338.74 L293.07,340.86 L293.52,342.83 L293.98,341.9 L294.43,341.41 L294.89,343.79 L295.34,343.75 L295.8,346.33 L296.25,346.53 L296.66,347.36 L297.07,347.27 L297.47,348.97 L297.87,349.17 L298.27,349.24 L298.67,351.4 L299.08,350.46 L299.49,352.25 L299.91,351.5 L300.34,353.23 L300.79,353.7 L301.25,355.66 L301.72,354.57 L302.2,355.87 L302.7,356.4 L303.19,358.53 L303.7,359.99 L304.22,360.1 L304.74,359.25 L305.28,359.21 L305.82,359.55 L306.37,360.49 L306.93,360.72 L307.5,361.05 L308.17,362.78 L308.8,363.62 L309.42,363.62 L310.05,365.05 L310.7,364.68 L311.4,365.23 L312.16,365.12 L313,366.13 L313.94,366.75 L315,366.52 L315.65,366.91 L316.34,367.22 L317.07,366.91 L317.83,366.85 L318.62,366.99 L319.44,367.45 L320.29,367.09 L321.15,367.37 L322.03,367.46 L322.92,367.42 L323.82,367.51 L324.72,367.81 L325.62,367.47 L326.52,367.82 L327.41,367.63 L328.29,367.86 L329.16,368.05 L330,367.71 L330.83,368.03 L331.67,368.28 L332.51,367.99 L333.35,367.7 L334.19,367.63 L335.04,368.14 L335.88,367.84 L336.72,368.23 L337.56,368.02 L338.4,368.25 L339.24,368.04 L340.07,368 L340.91,368.26 L341.73,368.12 L342.56,368.19 L343.38,368.52 L344.19,368.61 L345,368.75 L345.87,368.88 L346.78,368.57 L347.71,368.53 L348.66,368.75 L349.62,368.85 L350.58,368.69 L351.53,368.81 L352.47,368.8 L353.39,368.89 L354.28,368.87 L355.13,368.85 L355.94,369.16 L356.69,369.13 L357.38,369.3 L358,369.18 L358.54,369.24 L359,369.17" fill="none" stroke="#111" stroke-width="1.05"/>
<path d="M220.1,300.3 H359.9 V370" fill="none" stroke="#555" stroke-width="1.1"/>
<path d="M220.1,300.3 V370" fill="none" stroke="#222" stroke-width="1.3"/>
<path d="M219.5,370 H359.9" fill="none" stroke="#111" stroke-width="1.5"/>
<path d="M220.3,300.3 h-1.4" stroke="#000" stroke-width="1.2"/>
<path d="M220.3,317.73 h-1.4" stroke="#000" stroke-width="1.2"/>
<path d="M220.3,335.15 h-1.4" stroke="#000" stroke-width="1.2"/>
<path d="M220.3,352.57 h-1.4" stroke="#000" stroke-width="1.2"/>
<path d="M220.3,370 h-1.4" stroke="#000" stroke-width="1.2"/>
<rect x="220.4" y="372" width="2.5" height="2" fill="#888"/>
<rect x="254.25" y="372" width="1.6" height="2" fill="#888"/>
<rect x="288.2" y="372" width="3.6" height="2" fill="#777"/>
<rect x="322.45" y="372" width="5" height="2" fill="#555"/>
<rect x="354.1" y="372" width="5.6" height="2" fill="#555"/>
<text x="351.3" y="315.5" font-size="10" stroke="#000" stroke-width="0.35" text-anchor="end">68</text>
<path d="M375.6,370 L375.6,367.21 L376.06,366.87 L376.64,366.9 L377.33,366.44 L378.11,366.47 L378.95,366.17 L379.83,365.54 L380.74,365.23 L381.66,365.02 L382.56,365.15 L383.43,364.4 L384.25,363.62 L385,363.94 L385.65,363.8 L386.28,363.3 L386.91,362.08 L387.53,361.01 L388.14,360.31 L388.73,359.26 L389.31,358.34 L389.88,358.5 L390.44,358.06 L390.98,357.82 L391.5,356.97 L392.01,355.51 L392.5,355.8 L392.97,355.51 L393.41,354.76 L393.82,354 L394.22,353.5 L394.61,353.43 L394.97,352.76 L395.34,351.7 L395.69,350.13 L396.04,348.79 L396.4,347.93 L396.76,348.24 L397.12,346.88 L397.5,345.86 L397.95,344.96 L398.41,343.61 L398.86,344.27 L399.32,342.26 L399.77,342.12 L400.23,342.35 L400.68,340.8 L401.14,340.43 L401.59,339.49 L402.05,338.46 L402.5,337.6 L403.12,336.53 L403.75,337.09 L404.38,336.91 L405,336.78 L405.62,334.74 L406.25,334.82 L406.88,333.99 L407.5,334.17 L408.33,334.08 L409.17,333.7 L410,335.05 L410.83,334.09 L411.67,335.47 L412.5,336.8 L412.96,336.89 L413.43,337.41 L413.9,338.8 L414.37,338.33 L414.84,339.26 L415.31,340.33 L415.77,340.52 L416.23,341.68 L416.67,342 L417.09,342.81 L417.5,343.76 L417.89,344.73 L418.26,344.9 L418.61,346 L418.96,346.78 L419.29,346.93 L419.62,348.2 L419.94,348.54 L420.26,350.41 L420.59,350.88 L420.91,352.01 L421.25,352.57 L421.59,353.17 L421.91,353.39 L422.24,353.76 L422.56,355.94 L422.88,356.65 L423.21,357.41 L423.54,358.2 L423.89,359.54 L424.24,359.43 L424.61,359.61 L425,361.22 L425.49,361.81 L425.98,362.73 L426.48,363.75 L427,364.6 L427.54,365.23 L428.1,364.95 L428.7,365.41 L429.33,366.23 L430,366.82 L430.76,366.85 L431.64,367.08 L432.59,367.42 L433.57,367.68 L434.54,368.04 L435.46,368.46 L436.29,368.68 L436.98,368.84 L437.5,368.91 L437.5,370Z" fill="#000"/>
<path d="M414,337.69 L414.32,339.67 L414.73,339.99 L415.22,339.69 L415.77,339.92 L416.36,341.34 L416.97,342.3 L417.59,341.37 L418.19,342.94 L418.75,343.27 L419.08,344.03 L419.4,343.92 L419.73,344.63 L420.07,345.28 L420.4,346.12 L420.73,345.86 L421.07,346.69 L421.4,348.63 L421.74,348.48 L422.07,349.17 L422.41,351.53 L422.75,351.77 L423.08,352.4 L423.42,352.82 L423.75,355.13 L424.16,354.55 L424.57,356.31 L424.97,358.26 L425.37,357.67 L425.77,358.43 L426.17,360.29 L426.58,361.04 L426.99,361.08 L427.41,360.63 L427.84,361.69 L428.29,362.34 L428.75,363.6 L429.46,363.87 L430.2,364.44 L430.95,365.25 L431.72,366.01 L432.51,365.92 L433.32,366.06 L434.15,366.48 L435,367.18 L435.72,366.95 L436.39,367.61 L437.04,367.82 L437.7,367.76 L438.41,368.02 L439.21,368.02 L440.14,367.96 L441.22,368.36 L442.5,368.45 L443.08,368.54 L443.63,368.61 L444.16,368.83 L444.67,368.9 L445.19,368.68 L445.71,368.81 L446.24,368.84 L446.8,368.88 L447.38,369.04 L448.01,369.01 L448.69,369.02 L449.42,369.17 L450.22,369.13 L451.09,369.14 L452.05,369.16 L453.09,369.28 L454.24,369.31 L455.5,369.35 L456.87,369.29 L458.37,369.16 L460,369.29 L460.55,369.32 L461.12,369.4 L461.72,369.44 L462.35,369.27 L463,369.22 L463.68,369.15 L464.38,369.34 L465.1,369.23 L465.84,369.17 L466.6,369.34 L467.38,369.37 L468.18,369.23 L469,369.36 L469.83,369.43 L470.68,369.4 L471.54,369.25 L472.42,369.37 L473.31,369.35 L474.21,369.39 L475.13,369.54 L476.05,369.56 L476.98,369.59 L477.92,369.38 L478.87,369.34 L479.83,369.37 L480.79,369.24 L481.76,369.46 L482.73,369.36 L483.7,369.31 L484.68,369.3 L485.65,369.28 L486.63,369.45 L487.61,369.44 L488.58,369.42 L489.55,369.39 L490.52,369.26 L491.49,369.27 L492.45,369.45 L493.4,369.51 L494.35,369.56 L495.29,369.41 L496.22,369.32 L497.14,369.22 L498.05,369.32 L498.95,369.32 L499.83,369.35 L500.71,369.37 L501.56,369.41 L502.41,369.36 L503.24,369.47 L504.05,369.34 L504.84,369.5 L505.62,369.46 L506.37,369.3 L507.11,369.29 L507.82,369.35 L508.51,369.35 L509.18,369.39 L509.82,369.34 L510.44,369.3 L511.04,369.44 L511.6,369.36 L512.14,369.44 L512.65,369.51 L513.13,369.48 L513.58,369.43 L514,369.54" fill="none" stroke="#111" stroke-width="1.05"/>
<path d="M375.8,300.3 H514.8 V370" fill="none" stroke="#555" stroke-width="1.1"/>
<path d="M375.8,300.3 V370" fill="none" stroke="#222" stroke-width="1.3"/>
<path d="M375.2,370 H514.8" fill="none" stroke="#111" stroke-width="1.5"/>
<path d="M376,300.3 h-1.4" stroke="#000" stroke-width="1.2"/>
<path d="M376,317.73 h-1.4" stroke="#000" stroke-width="1.2"/>
<path d="M376,335.15 h-1.4" stroke="#000" stroke-width="1.2"/>
<path d="M376,352.57 h-1.4" stroke="#000" stroke-width="1.2"/>
<path d="M376,370 h-1.4" stroke="#000" stroke-width="1.2"/>
<rect x="376.1" y="372" width="2.5" height="2" fill="#888"/>
<rect x="409.75" y="372" width="1.6" height="2" fill="#888"/>
<rect x="443.5" y="372" width="3.6" height="2" fill="#777"/>
<rect x="477.55" y="372" width="5" height="2" fill="#555"/>
<rect x="509" y="372" width="5.6" height="2" fill="#555"/>
<text x="506.2" y="315.5" font-size="10" stroke="#000" stroke-width="0.35" text-anchor="end">11</text>
<text x="4.0" y="420" font-size="23.5" font-weight="bold" stroke="#000" stroke-width="0.5">B</text>
<rect x="66.5" y="424.7" width="448.0" height="147.90000000000003" fill="none" stroke="#333" stroke-width="1.3"/>
<path d="M62.5,565.5 H66.5" stroke="#333" stroke-width="1.2"/>
<text x="57.2" y="569.1" font-size="10.3" stroke="#000" stroke-width="0.2" text-anchor="end">0</text>
<path d="M62.5,537.34 H66.5" stroke="#333" stroke-width="1.2"/>
<text x="57.2" y="540.94" font-size="10.3" stroke="#000" stroke-width="0.2" text-anchor="end">20</text>
<path d="M62.5,509.18 H66.5" stroke="#333" stroke-width="1.2"/>
<text x="57.2" y="512.78" font-size="10.3" stroke="#000" stroke-width="0.2" text-anchor="end">40</text>
<path d="M62.5,481.02 H66.5" stroke="#333" stroke-width="1.2"/>
<text x="57.2" y="484.62" font-size="10.3" stroke="#000" stroke-width="0.2" text-anchor="end">60</text>
<path d="M62.5,452.86 H66.5" stroke="#333" stroke-width="1.2"/>
<text x="57.2" y="456.46" font-size="10.3" stroke="#000" stroke-width="0.2" text-anchor="end">80</text>
<path d="M62.5,424.7 H66.5" stroke="#333" stroke-width="1.2"/>
<text x="57.2" y="428.3" font-size="10.3" stroke="#000" stroke-width="0.2" text-anchor="end">100</text>
<text transform="translate(29.6,495) rotate(-90)" font-size="11" stroke="#000" stroke-width="0.2" text-anchor="middle">% Specific <tspan font-size="6.5" dy="-4">51</tspan><tspan dy="4">Cr Released</tspan></text>
<path d="M90,562.8 L102.3,565.7 L114.3,565.7 L126.2,562.8 L138.5,564.3 L150.4,561.1" fill="none" stroke="#222" stroke-width="1"/>
<circle cx="90" cy="562.8" r="3.7" fill="#000"/>
<circle cx="102.3" cy="565.7" r="3.7" fill="#000"/>
<circle cx="114.3" cy="565.7" r="3.7" fill="#000"/>
<circle cx="126.2" cy="562.8" r="3.7" fill="#000"/>
<circle cx="138.5" cy="564.3" r="3.7" fill="#000"/>
<circle cx="150.4" cy="561.1" r="3.7" fill="#000"/>
<path d="M90,431.7 L102.3,499.2 L114.3,521.9 L126.2,534.5 L138.5,538.9 L150.4,558.3" fill="none" stroke="#222" stroke-width="1"/>
<rect x="86.95" y="428.65" width="6.1" height="6.1" fill="#fff" stroke="#111" stroke-width="1.3"/>
<rect x="99.25" y="496.15" width="6.1" height="6.1" fill="#fff" stroke="#111" stroke-width="1.3"/>
<rect x="111.25" y="518.85" width="6.1" height="6.1" fill="#fff" stroke="#111" stroke-width="1.3"/>
<rect x="123.15" y="531.45" width="6.1" height="6.1" fill="#fff" stroke="#111" stroke-width="1.3"/>
<rect x="135.45" y="535.85" width="6.1" height="6.1" fill="#fff" stroke="#111" stroke-width="1.3"/>
<rect x="147.35" y="555.25" width="6.1" height="6.1" fill="#fff" stroke="#111" stroke-width="1.3"/>
<path d="M174.7,561.5 L187,562.8 L199.2,562.8 L211.2,564.6 L223.5,562.8 L235.5,562.8" fill="none" stroke="#222" stroke-width="1"/>
<circle cx="174.7" cy="561.5" r="3.7" fill="#000"/>
<circle cx="187" cy="562.8" r="3.7" fill="#000"/>
<circle cx="199.2" cy="562.8" r="3.7" fill="#000"/>
<circle cx="211.2" cy="564.6" r="3.7" fill="#000"/>
<circle cx="223.5" cy="562.8" r="3.7" fill="#000"/>
<circle cx="235.5" cy="562.8" r="3.7" fill="#000"/>
<path d="M174.7,479.5 L187,519.2 L199.2,545.7 L211.2,552.9 L223.5,555.7 L235.5,555.7" fill="none" stroke="#222" stroke-width="1"/>
<rect x="171.65" y="476.45" width="6.1" height="6.1" fill="#fff" stroke="#111" stroke-width="1.3"/>
<rect x="183.95" y="516.15" width="6.1" height="6.1" fill="#fff" stroke="#111" stroke-width="1.3"/>
<rect x="196.15" y="542.65" width="6.1" height="6.1" fill="#fff" stroke="#111" stroke-width="1.3"/>
<rect x="208.15" y="549.85" width="6.1" height="6.1" fill="#fff" stroke="#111" stroke-width="1.3"/>
<rect x="220.45" y="552.65" width="6.1" height="6.1" fill="#fff" stroke="#111" stroke-width="1.3"/>
<rect x="232.45" y="552.65" width="6.1" height="6.1" fill="#fff" stroke="#111" stroke-width="1.3"/>
<path d="M259.8,557.3 L272.1,558.7 L284.2,561.5 L296.2,562.5 L308.1,565.8 L320.4,562.5" fill="none" stroke="#222" stroke-width="1"/>
<circle cx="259.8" cy="557.3" r="3.7" fill="#000"/>
<circle cx="272.1" cy="558.7" r="3.7" fill="#000"/>
<circle cx="284.2" cy="561.5" r="3.7" fill="#000"/>
<circle cx="296.2" cy="562.5" r="3.7" fill="#000"/>
<circle cx="308.1" cy="565.8" r="3.7" fill="#000"/>
<circle cx="320.4" cy="562.5" r="3.7" fill="#000"/>
<path d="M259.8,523.5 L272.1,539 L284.2,547.1 L296.2,550 L308.1,551.3 L320.4,555.8" fill="none" stroke="#222" stroke-width="1"/>
<rect x="256.75" y="520.45" width="6.1" height="6.1" fill="#fff" stroke="#111" stroke-width="1.3"/>
<rect x="269.05" y="535.95" width="6.1" height="6.1" fill="#fff" stroke="#111" stroke-width="1.3"/>
<rect x="281.15" y="544.05" width="6.1" height="6.1" fill="#fff" stroke="#111" stroke-width="1.3"/>
<rect x="293.15" y="546.95" width="6.1" height="6.1" fill="#fff" stroke="#111" stroke-width="1.3"/>
<rect x="305.05" y="548.25" width="6.1" height="6.1" fill="#fff" stroke="#111" stroke-width="1.3"/>
<rect x="317.35" y="552.75" width="6.1" height="6.1" fill="#fff" stroke="#111" stroke-width="1.3"/>
<path d="M344.4,549.7 L356.7,558.6 L369,561.4 L380.8,564.2 L393.5,562.9 L405.4,562.9" fill="none" stroke="#222" stroke-width="1"/>
<circle cx="344.4" cy="549.7" r="3.7" fill="#000"/>
<circle cx="356.7" cy="558.6" r="3.7" fill="#000"/>
<circle cx="369" cy="561.4" r="3.7" fill="#000"/>
<circle cx="380.8" cy="564.2" r="3.7" fill="#000"/>
<circle cx="393.5" cy="562.9" r="3.7" fill="#000"/>
<circle cx="405.4" cy="562.9" r="3.7" fill="#000"/>
<path d="M344.4,425 L356.7,425 L369,478 L380.8,521.4 L393.5,535.5 L405.4,541.6" fill="none" stroke="#222" stroke-width="1"/>
<rect x="341.35" y="421.95" width="6.1" height="6.1" fill="#fff" stroke="#111" stroke-width="1.3"/>
<rect x="353.65" y="421.95" width="6.1" height="6.1" fill="#fff" stroke="#111" stroke-width="1.3"/>
<rect x="365.95" y="474.95" width="6.1" height="6.1" fill="#fff" stroke="#111" stroke-width="1.3"/>
<rect x="377.75" y="518.35" width="6.1" height="6.1" fill="#fff" stroke="#111" stroke-width="1.3"/>
<rect x="390.45" y="532.45" width="6.1" height="6.1" fill="#fff" stroke="#111" stroke-width="1.3"/>
<rect x="402.35" y="538.55" width="6.1" height="6.1" fill="#fff" stroke="#111" stroke-width="1.3"/>
<path d="M429.4,569.5 L441.7,569.5 L454,569.5 L465.8,571.4 L478.5,571.4 L490.4,565.2" fill="none" stroke="#222" stroke-width="1"/>
<circle cx="429.4" cy="569.5" r="3.7" fill="#000"/>
<circle cx="441.7" cy="569.5" r="3.7" fill="#000"/>
<circle cx="454" cy="569.5" r="3.7" fill="#000"/>
<circle cx="465.8" cy="571.4" r="3.7" fill="#000"/>
<circle cx="478.5" cy="571.4" r="3.7" fill="#000"/>
<circle cx="490.4" cy="565.2" r="3.7" fill="#000"/>
<path d="M429.4,425 L441.7,425 L454,486.5 L465.8,527.1 L478.5,536 L490.4,542.9" fill="none" stroke="#222" stroke-width="1"/>
<rect x="426.35" y="421.95" width="6.1" height="6.1" fill="#fff" stroke="#111" stroke-width="1.3"/>
<rect x="438.65" y="421.95" width="6.1" height="6.1" fill="#fff" stroke="#111" stroke-width="1.3"/>
<rect x="450.95" y="483.45" width="6.1" height="6.1" fill="#fff" stroke="#111" stroke-width="1.3"/>
<rect x="462.75" y="524.05" width="6.1" height="6.1" fill="#fff" stroke="#111" stroke-width="1.3"/>
<rect x="475.45" y="532.95" width="6.1" height="6.1" fill="#fff" stroke="#111" stroke-width="1.3"/>
<rect x="487.35" y="539.85" width="6.1" height="6.1" fill="#fff" stroke="#111" stroke-width="1.3"/>
<text x="116.4" y="596" font-size="10.6" font-weight="bold" stroke="#000" stroke-width="0.3" text-anchor="middle">Control</text>
<text x="198.9" y="596" font-size="10.6" font-weight="bold" stroke="#000" stroke-width="0.3" text-anchor="middle">no cytokine</text>
<text x="291.2" y="596" font-size="10.6" font-weight="bold" stroke="#000" stroke-width="0.3" text-anchor="middle">IL-4</text>
<text x="375.2" y="596" font-size="10.6" font-weight="bold" stroke="#000" stroke-width="0.3" text-anchor="middle">IL-12</text>
<text x="459.5" y="596" font-size="10.6" font-weight="bold" stroke="#000" stroke-width="0.3" text-anchor="middle">IFN-γ + TNF-α</text>
<text x="2.9" y="643.1" font-size="23.5" font-weight="bold" stroke="#000" stroke-width="0.5">C</text>
<rect x="65.7" y="650.8" width="448.50000000000006" height="147.20000000000005" fill="none" stroke="#333" stroke-width="1.3"/>
<path d="M150.5,650.8 V798.0 M330.7,650.8 V798.0" stroke="#222" stroke-width="1.2"/>
<path d="M62,781.9 H65.7" stroke="#333" stroke-width="1.2"/>
<text x="57" y="785.5" font-size="10.3" stroke="#000" stroke-width="0.2" text-anchor="end">0</text>
<path d="M62,716.44 H65.7" stroke="#333" stroke-width="1.2"/>
<text x="57" y="720.04" font-size="10.3" stroke="#000" stroke-width="0.2" text-anchor="end">30</text>
<path d="M62,650.98 H65.7" stroke="#333" stroke-width="1.2"/>
<text x="57" y="654.58" font-size="10.3" stroke="#000" stroke-width="0.2" text-anchor="end">60</text>
<text transform="translate(29.7,724.4) rotate(-90)" font-size="11" stroke="#000" stroke-width="0.2" text-anchor="middle">% Specific <tspan font-size="6.5" dy="-4">51</tspan><tspan dy="4">Cr Released</tspan></text>
<path d="M77.8,772.7 L84.5,769.3 L91.2,775.7 L97.5,782.5" fill="none" stroke="#222" stroke-width="1"/>
<path d="M74.1,770.1 h7.4 l-3.7,6.5 Z" fill="#000"/>
<path d="M80.8,766.7 h7.4 l-3.7,6.5 Z" fill="#000"/>
<path d="M87.5,773.1 h7.4 l-3.7,6.5 Z" fill="#000"/>
<path d="M93.8,779.9 h7.4 l-3.7,6.5 Z" fill="#000"/>
<path d="M78.1,781.9 L84.5,778.5 L90.5,785.2 L96.6,785.2" fill="none" stroke="#222" stroke-width="1"/>
<circle cx="78.1" cy="781.9" r="3.7" fill="#000"/>
<circle cx="84.5" cy="778.5" r="3.7" fill="#000"/>
<circle cx="90.5" cy="785.2" r="3.7" fill="#000"/>
<circle cx="96.6" cy="785.2" r="3.7" fill="#000"/>
<path d="M122.6,764.1 L128.7,772.7 L135.3,772.7 L141.8,777.5" fill="none" stroke="#222" stroke-width="1"/>
<path d="M118.9,761.5 h7.4 l-3.7,6.5 Z" fill="#000"/>
<path d="M125,770.1 h7.4 l-3.7,6.5 Z" fill="#000"/>
<path d="M131.6,770.1 h7.4 l-3.7,6.5 Z" fill="#000"/>
<path d="M138.1,774.9 h7.4 l-3.7,6.5 Z" fill="#000"/>
<path d="M122.6,673.7 L128.7,709.8 L134.8,749 L141.6,781.9" fill="none" stroke="#222" stroke-width="1"/>
<circle cx="122.6" cy="673.7" r="3.7" fill="#000"/>
<circle cx="128.7" cy="709.8" r="3.7" fill="#000"/>
<circle cx="134.8" cy="749" r="3.7" fill="#000"/>
<circle cx="141.6" cy="781.9" r="3.7" fill="#000"/>
<path d="M166.7,782.9 L173.5,783.2 L179.5,783.1 L185.9,782.8" fill="none" stroke="#222" stroke-width="1"/>
<path d="M163,780.3 h7.4 l-3.7,6.5 Z" fill="#000"/>
<path d="M169.8,780.6 h7.4 l-3.7,6.5 Z" fill="#000"/>
<path d="M175.8,780.5 h7.4 l-3.7,6.5 Z" fill="#000"/>
<path d="M182.2,780.2 h7.4 l-3.7,6.5 Z" fill="#000"/>
<path d="M166.7,785.1 L173.5,785.5 L179.5,782.1 L185.9,780.1" fill="none" stroke="#222" stroke-width="1"/>
<circle cx="166.7" cy="785.1" r="3.7" fill="#000"/>
<circle cx="173.5" cy="785.5" r="3.7" fill="#000"/>
<circle cx="179.5" cy="782.1" r="3.7" fill="#000"/>
<circle cx="185.9" cy="780.1" r="3.7" fill="#000"/>
<path d="M210.7,785.1 L217.1,785.4 L223.5,785.1 L229.9,784.9" fill="none" stroke="#222" stroke-width="1"/>
<path d="M207,782.5 h7.4 l-3.7,6.5 Z" fill="#000"/>
<path d="M213.4,782.8 h7.4 l-3.7,6.5 Z" fill="#000"/>
<path d="M219.8,782.5 h7.4 l-3.7,6.5 Z" fill="#000"/>
<path d="M226.2,782.3 h7.4 l-3.7,6.5 Z" fill="#000"/>
<path d="M210.7,785.5 L217.1,782.1 L223.5,782.1 L229.9,778.7" fill="none" stroke="#222" stroke-width="1"/>
<circle cx="210.7" cy="785.5" r="3.7" fill="#000"/>
<circle cx="217.1" cy="782.1" r="3.7" fill="#000"/>
<circle cx="223.5" cy="782.1" r="3.7" fill="#000"/>
<circle cx="229.9" cy="778.7" r="3.7" fill="#000"/>
<path d="M255,784.9 L261.5,785.4 L267.9,783 L274.2,785.6" fill="none" stroke="#222" stroke-width="1"/>
<path d="M251.3,782.3 h7.4 l-3.7,6.5 Z" fill="#000"/>
<path d="M257.8,782.8 h7.4 l-3.7,6.5 Z" fill="#000"/>
<path d="M264.2,780.4 h7.4 l-3.7,6.5 Z" fill="#000"/>
<path d="M270.5,783 h7.4 l-3.7,6.5 Z" fill="#000"/>
<path d="M255,742.7 L261.5,746.9 L267.9,762.7 L274.2,778.5" fill="none" stroke="#222" stroke-width="1"/>
<circle cx="255" cy="742.7" r="3.7" fill="#000"/>
<circle cx="261.5" cy="746.9" r="3.7" fill="#000"/>
<circle cx="267.9" cy="762.7" r="3.7" fill="#000"/>
<circle cx="274.2" cy="778.5" r="3.7" fill="#000"/>
<path d="M299.5,780.8 L305.5,782.6 L312.3,781.6 L318.6,786.1" fill="none" stroke="#222" stroke-width="1"/>
<path d="M295.8,778.2 h7.4 l-3.7,6.5 Z" fill="#000"/>
<path d="M301.8,780 h7.4 l-3.7,6.5 Z" fill="#000"/>
<path d="M308.6,779 h7.4 l-3.7,6.5 Z" fill="#000"/>
<path d="M314.9,783.5 h7.4 l-3.7,6.5 Z" fill="#000"/>
<path d="M299.5,717.2 L305.5,739.6 L312.3,762.3 L318.6,781.7" fill="none" stroke="#222" stroke-width="1"/>
<circle cx="299.5" cy="717.2" r="3.7" fill="#000"/>
<circle cx="305.5" cy="739.6" r="3.7" fill="#000"/>
<circle cx="312.3" cy="762.3" r="3.7" fill="#000"/>
<circle cx="318.6" cy="781.7" r="3.7" fill="#000"/>
<path d="M343.5,785.6 L350,786.5 L356.5,782.7 L363.1,786.1" fill="none" stroke="#222" stroke-width="1"/>
<path d="M339.8,783 h7.4 l-3.7,6.5 Z" fill="#000"/>
<path d="M346.3,783.9 h7.4 l-3.7,6.5 Z" fill="#000"/>
<path d="M352.8,780.1 h7.4 l-3.7,6.5 Z" fill="#000"/>
<path d="M359.4,783.5 h7.4 l-3.7,6.5 Z" fill="#000"/>
<path d="M343.5,785.4 L350,778.5 L356.5,778.1 L363.1,781.5" fill="none" stroke="#222" stroke-width="1"/>
<circle cx="343.5" cy="785.4" r="3.7" fill="#000"/>
<circle cx="350" cy="778.5" r="3.7" fill="#000"/>
<circle cx="356.5" cy="778.1" r="3.7" fill="#000"/>
<circle cx="363.1" cy="781.5" r="3.7" fill="#000"/>
<path d="M388,782.7 L394.4,779.6 L400.9,782.7 L407.2,782.9" fill="none" stroke="#222" stroke-width="1"/>
<path d="M384.3,780.1 h7.4 l-3.7,6.5 Z" fill="#000"/>
<path d="M390.7,777 h7.4 l-3.7,6.5 Z" fill="#000"/>
<path d="M397.2,780.1 h7.4 l-3.7,6.5 Z" fill="#000"/>
<path d="M403.5,780.3 h7.4 l-3.7,6.5 Z" fill="#000"/>
<path d="M388,732.8 L394.4,752.6 L400.9,767.1 L407.2,779" fill="none" stroke="#222" stroke-width="1"/>
<circle cx="388" cy="732.8" r="3.7" fill="#000"/>
<circle cx="394.4" cy="752.6" r="3.7" fill="#000"/>
<circle cx="400.9" cy="767.1" r="3.7" fill="#000"/>
<circle cx="407.2" cy="779" r="3.7" fill="#000"/>
<path d="M432.3,782.7 L438.4,779.9 L444.8,785.7 L451.3,785.7" fill="none" stroke="#222" stroke-width="1"/>
<path d="M428.6,780.1 h7.4 l-3.7,6.5 Z" fill="#000"/>
<path d="M434.7,777.3 h7.4 l-3.7,6.5 Z" fill="#000"/>
<path d="M441.1,783.1 h7.4 l-3.7,6.5 Z" fill="#000"/>
<path d="M447.6,783.1 h7.4 l-3.7,6.5 Z" fill="#000"/>
<path d="M432.3,703.6 L438.4,726.3 L444.8,755.8 L451.3,772.6" fill="none" stroke="#222" stroke-width="1"/>
<circle cx="432.3" cy="703.6" r="3.7" fill="#000"/>
<circle cx="438.4" cy="726.3" r="3.7" fill="#000"/>
<circle cx="444.8" cy="755.8" r="3.7" fill="#000"/>
<circle cx="451.3" cy="772.6" r="3.7" fill="#000"/>
<path d="M476.4,769.5 L482.6,776.4 L489,776.4 L495.3,782.6" fill="none" stroke="#222" stroke-width="1"/>
<path d="M472.7,766.9 h7.4 l-3.7,6.5 Z" fill="#000"/>
<path d="M478.9,773.8 h7.4 l-3.7,6.5 Z" fill="#000"/>
<path d="M485.3,773.8 h7.4 l-3.7,6.5 Z" fill="#000"/>
<path d="M491.6,780 h7.4 l-3.7,6.5 Z" fill="#000"/>
<path d="M476.4,673.4 L482.6,716.3 L489,749 L495.3,759.3" fill="none" stroke="#222" stroke-width="1"/>
<circle cx="476.4" cy="673.4" r="3.7" fill="#000"/>
<circle cx="482.6" cy="716.3" r="3.7" fill="#000"/>
<circle cx="489" cy="749" r="3.7" fill="#000"/>
<circle cx="495.3" cy="759.3" r="3.7" fill="#000"/>
<text x="84.6" y="814.2" font-size="9.7" font-weight="bold" stroke="#000" stroke-width="0.25" text-anchor="middle">no DC</text>
<text x="132.9" y="814.2" font-size="9.7" font-weight="bold" stroke="#000" stroke-width="0.25" text-anchor="middle">DC</text>
<text x="172.8" y="814.2" font-size="9.7" font-weight="bold" stroke="#000" stroke-width="0.25" text-anchor="middle">3:1</text>
<text x="220.3" y="814.2" font-size="9.7" font-weight="bold" stroke="#000" stroke-width="0.25" text-anchor="middle">1:1</text>
<text x="263.3" y="814.2" font-size="9.7" font-weight="bold" stroke="#000" stroke-width="0.25" text-anchor="middle">1:3</text>
<text x="308.4" y="814.2" font-size="9.7" font-weight="bold" stroke="#000" stroke-width="0.25" text-anchor="middle">1:9</text>
<text x="353.8" y="814.2" font-size="9.7" font-weight="bold" stroke="#000" stroke-width="0.25" text-anchor="middle">3:1</text>
<text x="400.3" y="814.2" font-size="9.7" font-weight="bold" stroke="#000" stroke-width="0.25" text-anchor="middle">1:1</text>
<text x="444.5" y="814.2" font-size="9.7" font-weight="bold" stroke="#000" stroke-width="0.25" text-anchor="middle">1:3</text>
<text x="488.4" y="814.2" font-size="9.7" font-weight="bold" stroke="#000" stroke-width="0.25" text-anchor="middle">1:9</text>
<path d="M162.8,826.8 H310 M339.1,826.8 H487.8" stroke="#333" stroke-width="1.3"/>
<text x="236.3" y="846.6" font-size="10.2" font-weight="bold" stroke="#000" stroke-width="0.25" text-anchor="middle"><tspan font-style="italic">t</tspan>Mac-IL-4/DC ratio</text>
<text x="415" y="846.6" font-size="10.2" font-weight="bold" stroke="#000" stroke-width="0.25" text-anchor="middle"><tspan font-style="italic">t</tspan>Mac/DC ratio</text>
</svg>
</body></html>
